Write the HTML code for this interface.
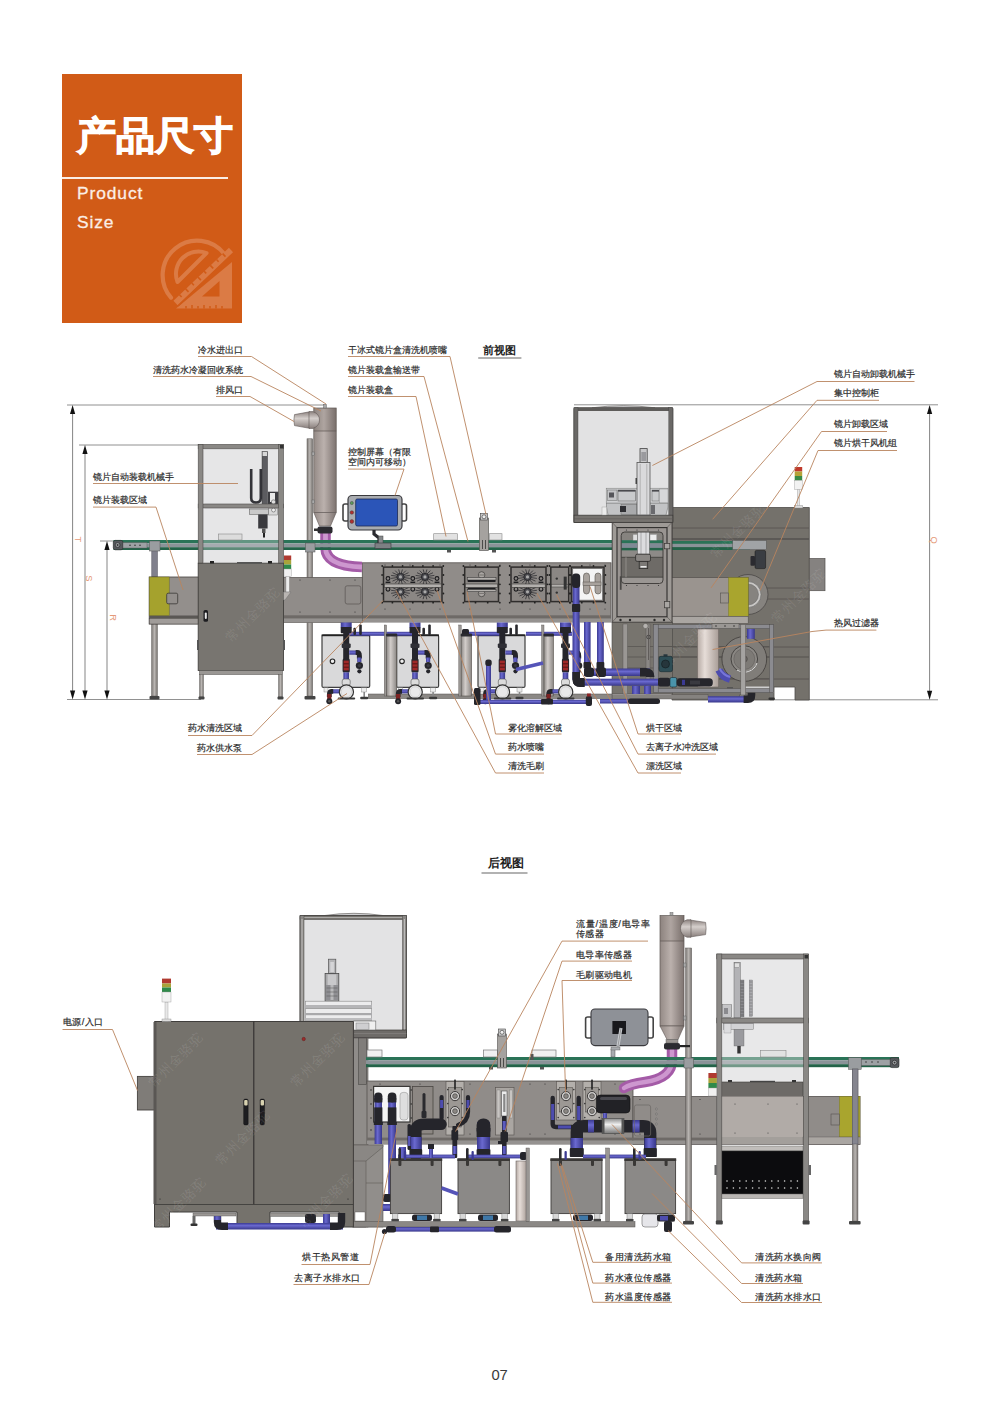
<!DOCTYPE html>
<html lang="zh"><head><meta charset="utf-8"><title>产品尺寸</title>
<style>
html,body{margin:0;padding:0;background:#fff;}
body{width:1000px;height:1415px;position:relative;overflow:hidden;font-family:"Liberation Sans",sans-serif;color:#333;}
#hdr{position:absolute;left:62px;top:73.5px;width:180px;height:249.5px;background:#d15b17;}
#hdr h1{position:absolute;left:15px;top:38px;margin:0;font-size:39px;line-height:48px;font-weight:bold;color:#fff;white-space:nowrap;letter-spacing:0px;-webkit-text-stroke:1.1px #fff;}
#hdr .ln{position:absolute;left:0;top:103px;width:166px;height:2px;background:#fbeee6;}
#hdr p{position:absolute;left:15px;margin:0;font-size:17.4px;line-height:20px;color:#fbeee6;letter-spacing:0.9px;-webkit-text-stroke:0.3px #fbeee6;}
svg#art{position:absolute;left:0;top:0;}
.lb{position:absolute;font-size:9px;line-height:11px;white-space:nowrap;color:#2b2b2b;-webkit-text-stroke:0.2px #2b2b2b;}
.r{text-align:right;}
.vt{position:absolute;font-size:8px;line-height:8px;color:#e0703a;transform:rotate(90deg);transform-origin:left top;}
.ttl{position:absolute;font-size:11.5px;line-height:14px;font-weight:bold;color:#222;white-space:nowrap;}
#pg{position:absolute;left:491.4px;top:1367.3px;font-size:14.8px;line-height:16px;color:#3a3a3a;}
</style></head><body>
<div id="hdr"><h1>产品尺寸</h1><div class="ln"></div><p style="top:109px">Product</p><p style="top:138.6px">Size</p></div>
<svg id="art" width="1000" height="1415" viewBox="0 0 1000 1415">
<defs>
<linearGradient id="cyl" x1="0" x2="1" y1="0" y2="0"><stop offset="0" stop-color="#b5aaa4"/><stop offset="0.35" stop-color="#e6ddd8"/><stop offset="1" stop-color="#a89d97"/></linearGradient>
<linearGradient id="cyl2" x1="0" x2="1" y1="0" y2="0"><stop offset="0" stop-color="#8f8b88"/><stop offset="0.4" stop-color="#d2cdca"/><stop offset="1" stop-color="#8b8784"/></linearGradient>
<linearGradient id="twr" x1="0" x2="1" y1="0" y2="0"><stop offset="0" stop-color="#948a86"/><stop offset="0.45" stop-color="#bbb1ad"/><stop offset="1" stop-color="#7d7370"/></linearGradient>
<linearGradient id="vent" x1="0" x2="0" y1="0" y2="1"><stop offset="0" stop-color="#8d8380"/><stop offset="0.4" stop-color="#d5cfcc"/><stop offset="1" stop-color="#8a807d"/></linearGradient>
<linearGradient id="bp" x1="0" x2="1" y1="0" y2="0"><stop offset="0" stop-color="#3b3a92"/><stop offset="0.4" stop-color="#6a69cf"/><stop offset="1" stop-color="#38378a"/></linearGradient>
<linearGradient id="bph" x1="0" x2="0" y1="0" y2="1"><stop offset="0" stop-color="#3b3a92"/><stop offset="0.4" stop-color="#6a69cf"/><stop offset="1" stop-color="#38378a"/></linearGradient>
<linearGradient id="pole" x1="0" x2="1" y1="0" y2="0"><stop offset="0" stop-color="#7d7976"/><stop offset="0.5" stop-color="#b9b5b2"/><stop offset="1" stop-color="#77736f"/></linearGradient>
</defs>
<g id="icon" fill="none" stroke="#db7b45">
<path d="M171 297.6 A34.5 34.5 0 1 1 224.6 254.2" stroke-width="4.2" stroke-linecap="round"/>
<path d="M177.5 282 L206.5 253 A22.4 22.4 0 0 0 177.5 282 Z" stroke-width="4" stroke-linejoin="round"/>
<path d="M175.5 303 L231 250" stroke-width="6" stroke-linecap="butt"/>
<path d="M179.5 294.8 l2.1 2.2" stroke="#d15b17" stroke-width="1.6"/>
<path d="M185.6 288.9 l2.9 3.0" stroke="#d15b17" stroke-width="1.6"/>
<path d="M191.8 283.0 l2.1 2.2" stroke="#d15b17" stroke-width="1.6"/>
<path d="M198.0 277.1 l2.9 3.0" stroke="#d15b17" stroke-width="1.6"/>
<path d="M204.1 271.2 l2.1 2.2" stroke="#d15b17" stroke-width="1.6"/>
<path d="M210.3 265.4 l2.9 3.0" stroke="#d15b17" stroke-width="1.6"/>
<path d="M216.5 259.5 l2.1 2.2" stroke="#d15b17" stroke-width="1.6"/>
<path d="M222.6 253.6 l2.9 3.0" stroke="#d15b17" stroke-width="1.6"/>
<path d="M232 262 V308.5 H176 Z" stroke-width="0" fill="#db7b45"/>
<path d="M219.5 281 V296.5 H202 Z" stroke="none" fill="#d15b17"/>
<path d="M178 306 L231.5 255.5" stroke="#d15b17" stroke-width="1.6"/>
<path d="M186.0 308.5 v-2.4" stroke="#d15b17" stroke-width="1.5"/>
<path d="M192.0 308.5 v-3.4" stroke="#d15b17" stroke-width="1.5"/>
<path d="M198.0 308.5 v-2.4" stroke="#d15b17" stroke-width="1.5"/>
<path d="M204.0 308.5 v-3.4" stroke="#d15b17" stroke-width="1.5"/>
<path d="M210.0 308.5 v-2.4" stroke="#d15b17" stroke-width="1.5"/>
<path d="M216.0 308.5 v-3.4" stroke="#d15b17" stroke-width="1.5"/>
<path d="M222.0 308.5 v-2.4" stroke="#d15b17" stroke-width="1.5"/>
</g>
<g id="front">
<line x1="67.0" y1="405.0" x2="326.0" y2="405.0" stroke="#858585" stroke-width="0.9" />
<line x1="574.0" y1="404.8" x2="938.0" y2="404.8" stroke="#858585" stroke-width="0.9" />
<line x1="79.0" y1="445.0" x2="199.0" y2="445.0" stroke="#858585" stroke-width="0.9" />
<line x1="100.0" y1="541.0" x2="114.0" y2="541.0" stroke="#858585" stroke-width="0.9" />
<line x1="67.0" y1="699.5" x2="201.0" y2="699.5" stroke="#858585" stroke-width="0.9" />
<line x1="770.0" y1="699.8" x2="938.0" y2="699.8" stroke="#858585" stroke-width="0.9" />
<line x1="72.6" y1="411.0" x2="72.6" y2="693.5" stroke="#858585" stroke-width="1" />
<path d="M72.6 405.0 l-2.6 9 h5.2 z" fill="#111" />
<path d="M72.6 699.5 l-2.6 -9 h5.2 z" fill="#111" />
<line x1="85.0" y1="451.0" x2="85.0" y2="693.5" stroke="#858585" stroke-width="1" />
<path d="M85.0 445.0 l-2.6 9 h5.2 z" fill="#111" />
<path d="M85.0 699.5 l-2.6 -9 h5.2 z" fill="#111" />
<line x1="107.0" y1="547.0" x2="107.0" y2="693.5" stroke="#858585" stroke-width="1" />
<path d="M107.0 541.0 l-2.6 9 h5.2 z" fill="#111" />
<path d="M107.0 699.5 l-2.6 -9 h5.2 z" fill="#111" />
<line x1="929.6" y1="411.0" x2="929.6" y2="693.8" stroke="#858585" stroke-width="1" />
<path d="M929.6 405.0 l-2.6 9 h5.2 z" fill="#111" />
<path d="M929.6 699.8 l-2.6 -9 h5.2 z" fill="#111" />
<path d="M672 507.5 H809.3 V700 H795 V687 H774 V700 H672 Z" fill="#74716b" stroke="#4e4c49" stroke-width="0.8" />
<rect x="809.3" y="558.5" width="15.7" height="32.2" fill="#858280" stroke="#55524f" stroke-width="0.7" />
<line x1="672.0" y1="528.0" x2="809.0" y2="528.0" stroke="#55524f" stroke-width="0.8" />
<line x1="672.0" y1="539.0" x2="809.0" y2="539.0" stroke="#55524f" stroke-width="1.4" />
<line x1="672.0" y1="647.0" x2="809.0" y2="647.0" stroke="#55524f" stroke-width="0.8" />
<line x1="672.0" y1="657.0" x2="809.0" y2="657.0" stroke="#55524f" stroke-width="1.2" />
<line x1="672.0" y1="679.0" x2="809.0" y2="679.0" stroke="#55524f" stroke-width="0.8" />
<line x1="748.0" y1="588.0" x2="809.0" y2="588.0" stroke="#55524f" stroke-width="0.8" />
<line x1="748.0" y1="599.0" x2="809.0" y2="599.0" stroke="#55524f" stroke-width="0.8" />
<circle cx="748.0" cy="594.5" r="20.0" fill="#86837f" stroke="#4a4846" stroke-width="0.8"/>
<circle cx="748.0" cy="594.5" r="13.0" fill="#c9c7c5" stroke="#666" stroke-width="0.6"/>
<circle cx="748.0" cy="594.5" r="10.5" fill="#86837f" stroke="#666" stroke-width="0.5"/>
<rect x="672.0" y="577.6" width="76.2" height="38.7" fill="#9a948f" stroke="#55524f" stroke-width="0.7" />
<rect x="728.6" y="577.6" width="19.6" height="38.7" fill="#a9a52e" stroke="#7c7a25" stroke-width="0.5" />
<rect x="720.5" y="593.0" width="8.1" height="10.0" fill="#9a948f" stroke="#55524f" stroke-width="0.6" />
<rect x="672.0" y="616.3" width="76.2" height="7.2" fill="#aaa6a2" stroke="#55524f" stroke-width="0.6" />
<rect x="672.0" y="541.0" width="78.0" height="2.6" fill="#2a7357" />
<rect x="672.0" y="543.6" width="78.0" height="3.6" fill="#8a9398" />
<rect x="672.0" y="547.2" width="78.0" height="2.8" fill="#236349" />
<rect x="672.0" y="541.0" width="78.0" height="2.6" fill="#2a7357" />
<rect x="732.7" y="540.6" width="33.6" height="9.1" fill="#a0a3a6" stroke="#555" stroke-width="0.5" />
<rect x="755.0" y="550.4" width="10.6" height="18.2" fill="#3a3d42" stroke="#111" stroke-width="0.5" rx="1.5" />
<rect x="750.5" y="556.0" width="4.5" height="9.8" fill="#2b2b30" rx="1" />
<rect x="797.3" y="489.0" width="2.4" height="18.5" fill="#e8e8e8" stroke="#999" stroke-width="0.4" />
<rect x="794.3" y="505.5" width="8.5" height="2.5" fill="#ddd" stroke="#888" stroke-width="0.4" />
<rect x="794.7" y="467.0" width="7.5" height="4.5" fill="#c0392b" />
<rect x="794.7" y="471.5" width="7.5" height="4.5" fill="#b5a338" />
<rect x="794.7" y="476.0" width="7.5" height="4.5" fill="#3a8a45" />
<rect x="794.7" y="480.5" width="7.5" height="8.9" fill="#f2f2f2" stroke="#999" stroke-width="0.4" />
<rect x="612.0" y="622.5" width="60.5" height="71.5" fill="#77746e" stroke="#4e4c49" stroke-width="0.6" />
<line x1="625.0" y1="646.5" x2="672.0" y2="646.5" stroke="#55524f" stroke-width="0.7" />
<line x1="625.0" y1="657.0" x2="672.0" y2="657.0" stroke="#55524f" stroke-width="0.7" />
<line x1="625.0" y1="668.0" x2="672.0" y2="668.0" stroke="#55524f" stroke-width="0.7" />
<rect x="623.0" y="624.0" width="4.5" height="70.0" fill="#9a9794" stroke="#55524f" stroke-width="0.4" />
<rect x="646.0" y="624.0" width="4.0" height="70.0" fill="#8a8784" stroke="#55524f" stroke-width="0.4" />
<circle cx="645.5" cy="626.0" r="2.6" fill="#b5b2af" stroke="#55524f" stroke-width="0.5"/>
<circle cx="648.5" cy="637.0" r="1.8" fill="none" stroke="#333" stroke-width="0.7"/>
<line x1="648.5" y1="628.0" x2="648.5" y2="660.0" stroke="#55524f" stroke-width="0.8" />
<line x1="658.0" y1="646.5" x2="770.0" y2="646.5" stroke="#55524f" stroke-width="0.7" />
<line x1="658.0" y1="657.0" x2="770.0" y2="657.0" stroke="#55524f" stroke-width="0.7" />
<line x1="658.0" y1="678.7" x2="770.0" y2="678.7" stroke="#55524f" stroke-width="0.7" />
<rect x="697.4" y="629.0" width="21.3" height="58.0" fill="url(#cyl)" stroke="#6d6561" stroke-width="0.6" />
<circle cx="744.3" cy="659.0" r="22.4" fill="#807d79" stroke="#45423f" stroke-width="0.9"/>
<circle cx="744.3" cy="659.0" r="13.3" fill="#8a8783" stroke="#3f3d3b" stroke-width="0.9"/>
<circle cx="744.3" cy="659.0" r="10.5" fill="#7d7a76" stroke="#5a5754" stroke-width="0.5"/>
<path d="M737 670 A13.3 13.3 0 0 0 757 663" fill="none" stroke="#e6e6e6" stroke-width="1" />
<circle cx="744.3" cy="659.0" r="3.0" fill="#6d6a66" stroke="#3f3d3b" stroke-width="0.6"/>
<path d="M719 670 Q722 677 730 679" fill="none" stroke="#4d4cae" stroke-width="7.5" />
<path d="M719.5 668.5 Q723 675 730 677" fill="none" stroke="#7776d8" stroke-width="2" />
<rect x="747.0" y="628.3" width="7.8" height="10.5" fill="url(#bp)" />
<rect x="727.0" y="687.0" width="6.0" height="2.0" fill="#555" />
<rect x="755.0" y="687.0" width="6.0" height="2.0" fill="#555" />
<rect x="745.0" y="686.5" width="25.0" height="2.5" fill="#cfcfcf" />
<rect x="653.3" y="624.5" width="120.4" height="4.2" fill="#8b8b90" stroke="#4e4c4a" stroke-width="0.5" />
<rect x="653.3" y="688.5" width="120.4" height="4.2" fill="#8b8b90" stroke="#4e4c4a" stroke-width="0.5" />
<rect x="653.3" y="624.5" width="4.9" height="68.2" fill="#8b8b90" stroke="#4e4c4a" stroke-width="0.5" />
<rect x="769.5" y="624.5" width="4.2" height="68.2" fill="#8b8b90" stroke="#4e4c4a" stroke-width="0.5" />
<rect x="712.0" y="623.5" width="27.0" height="5.0" fill="#9a9794" stroke="#55524f" stroke-width="0.5" />
<circle cx="716.0" cy="626.0" r="0.7" fill="#222"/>
<circle cx="725.0" cy="626.0" r="0.7" fill="#222"/>
<circle cx="734.0" cy="626.0" r="0.7" fill="#222"/>
<rect x="740.8" y="624.5" width="4.9" height="71.5" fill="#a5a3a1" stroke="#5a5754" stroke-width="0.5" />
<rect x="739.5" y="695.0" width="7.5" height="2.5" fill="#8a8885" stroke="#444" stroke-width="0.4" />
<rect x="770.0" y="692.7" width="3.3" height="5.3" fill="#777" />
<rect x="768.5" y="697.5" width="6.3" height="2.5" fill="#333" rx="1" />
<rect x="659.0" y="656.3" width="13.5" height="15.4" fill="#2e4d55" stroke="#182a30" stroke-width="0.6" rx="2" />
<circle cx="665.5" cy="664.0" r="4.0" fill="#26363c" stroke="#101c20" stroke-width="0.6"/>
<rect x="663.5" y="654.3" width="4.0" height="2.7" fill="#26363c" />
<rect x="584.0" y="668.5" width="66.0" height="7.5" fill="url(#bph)" />
<rect x="584.0" y="667.5" width="10.0" height="9.5" fill="#25252b" rx="3" />
<rect x="596.0" y="667.5" width="10.0" height="9.5" fill="#25252b" rx="2" />
<path d="M640 672.2 H646 Q650.2 672.2 650.2 677" fill="none" stroke="#25252b" stroke-width="8.5" />
<rect x="579.0" y="678.7" width="79.0" height="7.0" fill="url(#bph)" />
<path d="M572.5 672 v7 q0 8 8 8 h4 v-9 h-4.5 v-6 z" fill="#25252b" />
<rect x="658.0" y="677.8" width="12.0" height="8.8" fill="#25252b" rx="2" />
<rect x="670.0" y="677.5" width="6.7" height="9.5" fill="#4a93aa" stroke="#1a2a30" stroke-width="0.6" rx="1.5" />
<rect x="676.7" y="678.3" width="36.1" height="8.1" fill="#25252b" rx="3.5" />
<rect x="682.0" y="679.8" width="3.0" height="5.2" fill="#3b3a92" />
<rect x="690.0" y="680.5" width="10.0" height="4.0" fill="#3a3a40" />
<rect x="632.0" y="686.0" width="8.0" height="8.0" fill="url(#bp)" />
<rect x="644.0" y="686.0" width="7.0" height="8.0" fill="url(#bp)" />
<rect x="612.0" y="694.8" width="96.0" height="4.2" fill="#85827f" stroke="#55524f" stroke-width="0.4" />
<rect x="600.0" y="699.0" width="40.0" height="4.5" fill="url(#bph)" />
<rect x="708.0" y="696.2" width="36.0" height="6.3" fill="url(#bph)" />
<path d="M743.6 699.3 H748 Q751.5 699.3 751.5 695 V692.7" fill="none" stroke="#25252b" stroke-width="7.6" />
<rect x="628.0" y="698.5" width="32.0" height="5.5" fill="#25252b" rx="2.5" />
<rect x="307.0" y="438.8" width="5.6" height="257.2" fill="url(#pole)" stroke="#5b5754" stroke-width="0.5" />
<rect x="304.5" y="696.0" width="11.0" height="3.5" fill="#444" rx="1" />
<rect x="151.8" y="549.0" width="5.6" height="28.0" fill="#80808c" stroke="#4a4a55" stroke-width="0.5" />
<rect x="151.5" y="623.4" width="6.0" height="72.6" fill="url(#pole)" stroke="#5b5754" stroke-width="0.4" />
<rect x="149.5" y="696.0" width="10.0" height="3.5" fill="#444" rx="1" />
<rect x="362.3" y="562.8" width="248.7" height="59.2" fill="#908c89" stroke="#56524f" stroke-width="0.8" />
<rect x="362.3" y="615.3" width="248.7" height="3.3" fill="#6e6a67" />
<rect x="362.3" y="618.6" width="248.7" height="3.4" fill="#959290" />
<rect x="283.5" y="577.4" width="78.8" height="45.0" fill="#908c89" stroke="#56524f" stroke-width="0.7" />
<rect x="283.5" y="615.3" width="78.8" height="3.3" fill="#6e6a67" />
<rect x="283.5" y="618.6" width="78.8" height="3.8" fill="#959290" />
<rect x="345.2" y="585.8" width="15.6" height="18.2" fill="none" stroke="#5f5b58" stroke-width="0.8" rx="2" />
<rect x="149.2" y="577.0" width="49.3" height="47.0" fill="#938f8c" stroke="#46423f" stroke-width="0.8" />
<rect x="149.2" y="615.5" width="49.3" height="2.9" fill="#5a5754" />
<rect x="149.2" y="618.4" width="49.3" height="5.6" fill="#a09c99" stroke="#46423f" stroke-width="0.5" />
<rect x="149.2" y="577.0" width="20.0" height="38.5" fill="#a5a22d" stroke="#6c6a25" stroke-width="0.5" />
<rect x="166.7" y="593.2" width="11.0" height="10.6" fill="#938f8c" stroke="#3a3836" stroke-width="0.8" rx="1.5" />
<circle cx="385.0" cy="565.0" r="0.6" fill="#333"/>
<circle cx="385.0" cy="609.0" r="0.6" fill="#333"/>
<circle cx="410.0" cy="565.0" r="0.6" fill="#333"/>
<circle cx="410.0" cy="609.0" r="0.6" fill="#333"/>
<circle cx="440.0" cy="565.0" r="0.6" fill="#333"/>
<circle cx="440.0" cy="609.0" r="0.6" fill="#333"/>
<circle cx="470.0" cy="565.0" r="0.6" fill="#333"/>
<circle cx="470.0" cy="609.0" r="0.6" fill="#333"/>
<circle cx="500.0" cy="565.0" r="0.6" fill="#333"/>
<circle cx="500.0" cy="609.0" r="0.6" fill="#333"/>
<circle cx="530.0" cy="565.0" r="0.6" fill="#333"/>
<circle cx="530.0" cy="609.0" r="0.6" fill="#333"/>
<circle cx="560.0" cy="565.0" r="0.6" fill="#333"/>
<circle cx="560.0" cy="609.0" r="0.6" fill="#333"/>
<circle cx="590.0" cy="565.0" r="0.6" fill="#333"/>
<circle cx="590.0" cy="609.0" r="0.6" fill="#333"/>
<circle cx="605.0" cy="565.0" r="0.6" fill="#333"/>
<circle cx="605.0" cy="609.0" r="0.6" fill="#333"/>
<circle cx="300.0" cy="580.0" r="0.6" fill="#333"/>
<circle cx="300.0" cy="612.0" r="0.6" fill="#333"/>
<circle cx="330.0" cy="580.0" r="0.6" fill="#333"/>
<circle cx="330.0" cy="612.0" r="0.6" fill="#333"/>
<circle cx="355.0" cy="580.0" r="0.6" fill="#333"/>
<circle cx="355.0" cy="612.0" r="0.6" fill="#333"/>
<rect x="383.5" y="567.1" width="58.5" height="34.5" fill="#8b8784" stroke="#2f2d2c" stroke-width="1.5" />
<line x1="403.4" y1="577.5" x2="409.9" y2="578.4" stroke="#2a2a2e" stroke-width="0.75" />
<line x1="403.0" y1="578.6" x2="408.5" y2="581.1" stroke="#2a2a2e" stroke-width="0.75" />
<line x1="402.2" y1="579.4" x2="405.8" y2="583.2" stroke="#2a2a2e" stroke-width="0.75" />
<line x1="401.1" y1="579.8" x2="402.3" y2="584.4" stroke="#2a2a2e" stroke-width="0.75" />
<line x1="399.9" y1="579.8" x2="398.6" y2="584.3" stroke="#2a2a2e" stroke-width="0.75" />
<line x1="398.8" y1="579.4" x2="395.1" y2="583.2" stroke="#2a2a2e" stroke-width="0.75" />
<line x1="398.0" y1="578.6" x2="392.5" y2="581.1" stroke="#2a2a2e" stroke-width="0.75" />
<line x1="397.6" y1="577.5" x2="391.1" y2="578.4" stroke="#2a2a2e" stroke-width="0.75" />
<line x1="397.6" y1="576.3" x2="391.1" y2="575.4" stroke="#2a2a2e" stroke-width="0.75" />
<line x1="398.0" y1="575.2" x2="392.5" y2="572.7" stroke="#2a2a2e" stroke-width="0.75" />
<line x1="398.8" y1="574.4" x2="395.2" y2="570.6" stroke="#2a2a2e" stroke-width="0.75" />
<line x1="399.9" y1="574.0" x2="398.7" y2="569.4" stroke="#2a2a2e" stroke-width="0.75" />
<line x1="401.1" y1="574.0" x2="402.4" y2="569.5" stroke="#2a2a2e" stroke-width="0.75" />
<line x1="402.2" y1="574.4" x2="405.9" y2="570.6" stroke="#2a2a2e" stroke-width="0.75" />
<line x1="403.0" y1="575.2" x2="408.5" y2="572.7" stroke="#2a2a2e" stroke-width="0.75" />
<line x1="403.4" y1="576.3" x2="409.9" y2="575.4" stroke="#2a2a2e" stroke-width="0.75" />
<circle cx="400.5" cy="576.9" r="3.6" fill="#4a4a4f" stroke="#1a1a1d" stroke-width="0.7"/>
<circle cx="400.5" cy="576.9" r="1.6" fill="#aaa"/>
<line x1="403.4" y1="592.4" x2="409.9" y2="593.3" stroke="#2a2a2e" stroke-width="0.75" />
<line x1="403.0" y1="593.5" x2="408.5" y2="596.0" stroke="#2a2a2e" stroke-width="0.75" />
<line x1="402.2" y1="594.3" x2="405.8" y2="598.1" stroke="#2a2a2e" stroke-width="0.75" />
<line x1="401.1" y1="594.7" x2="402.3" y2="599.3" stroke="#2a2a2e" stroke-width="0.75" />
<line x1="399.9" y1="594.7" x2="398.6" y2="599.2" stroke="#2a2a2e" stroke-width="0.75" />
<line x1="398.8" y1="594.3" x2="395.1" y2="598.1" stroke="#2a2a2e" stroke-width="0.75" />
<line x1="398.0" y1="593.5" x2="392.5" y2="596.0" stroke="#2a2a2e" stroke-width="0.75" />
<line x1="397.6" y1="592.4" x2="391.1" y2="593.3" stroke="#2a2a2e" stroke-width="0.75" />
<line x1="397.6" y1="591.2" x2="391.1" y2="590.3" stroke="#2a2a2e" stroke-width="0.75" />
<line x1="398.0" y1="590.1" x2="392.5" y2="587.6" stroke="#2a2a2e" stroke-width="0.75" />
<line x1="398.8" y1="589.3" x2="395.2" y2="585.5" stroke="#2a2a2e" stroke-width="0.75" />
<line x1="399.9" y1="588.9" x2="398.7" y2="584.3" stroke="#2a2a2e" stroke-width="0.75" />
<line x1="401.1" y1="588.9" x2="402.4" y2="584.4" stroke="#2a2a2e" stroke-width="0.75" />
<line x1="402.2" y1="589.3" x2="405.9" y2="585.5" stroke="#2a2a2e" stroke-width="0.75" />
<line x1="403.0" y1="590.1" x2="408.5" y2="587.6" stroke="#2a2a2e" stroke-width="0.75" />
<line x1="403.4" y1="591.2" x2="409.9" y2="590.3" stroke="#2a2a2e" stroke-width="0.75" />
<circle cx="400.5" cy="591.8" r="3.6" fill="#4a4a4f" stroke="#1a1a1d" stroke-width="0.7"/>
<circle cx="400.5" cy="591.8" r="1.6" fill="#aaa"/>
<line x1="427.9" y1="577.5" x2="434.4" y2="578.4" stroke="#2a2a2e" stroke-width="0.75" />
<line x1="427.5" y1="578.6" x2="433.0" y2="581.1" stroke="#2a2a2e" stroke-width="0.75" />
<line x1="426.7" y1="579.4" x2="430.3" y2="583.2" stroke="#2a2a2e" stroke-width="0.75" />
<line x1="425.6" y1="579.8" x2="426.8" y2="584.4" stroke="#2a2a2e" stroke-width="0.75" />
<line x1="424.4" y1="579.8" x2="423.1" y2="584.3" stroke="#2a2a2e" stroke-width="0.75" />
<line x1="423.3" y1="579.4" x2="419.6" y2="583.2" stroke="#2a2a2e" stroke-width="0.75" />
<line x1="422.5" y1="578.6" x2="417.0" y2="581.1" stroke="#2a2a2e" stroke-width="0.75" />
<line x1="422.1" y1="577.5" x2="415.6" y2="578.4" stroke="#2a2a2e" stroke-width="0.75" />
<line x1="422.1" y1="576.3" x2="415.6" y2="575.4" stroke="#2a2a2e" stroke-width="0.75" />
<line x1="422.5" y1="575.2" x2="417.0" y2="572.7" stroke="#2a2a2e" stroke-width="0.75" />
<line x1="423.3" y1="574.4" x2="419.7" y2="570.6" stroke="#2a2a2e" stroke-width="0.75" />
<line x1="424.4" y1="574.0" x2="423.2" y2="569.4" stroke="#2a2a2e" stroke-width="0.75" />
<line x1="425.6" y1="574.0" x2="426.9" y2="569.5" stroke="#2a2a2e" stroke-width="0.75" />
<line x1="426.7" y1="574.4" x2="430.4" y2="570.6" stroke="#2a2a2e" stroke-width="0.75" />
<line x1="427.5" y1="575.2" x2="433.0" y2="572.7" stroke="#2a2a2e" stroke-width="0.75" />
<line x1="427.9" y1="576.3" x2="434.4" y2="575.4" stroke="#2a2a2e" stroke-width="0.75" />
<circle cx="425.0" cy="576.9" r="3.6" fill="#4a4a4f" stroke="#1a1a1d" stroke-width="0.7"/>
<circle cx="425.0" cy="576.9" r="1.6" fill="#aaa"/>
<line x1="427.9" y1="592.4" x2="434.4" y2="593.3" stroke="#2a2a2e" stroke-width="0.75" />
<line x1="427.5" y1="593.5" x2="433.0" y2="596.0" stroke="#2a2a2e" stroke-width="0.75" />
<line x1="426.7" y1="594.3" x2="430.3" y2="598.1" stroke="#2a2a2e" stroke-width="0.75" />
<line x1="425.6" y1="594.7" x2="426.8" y2="599.3" stroke="#2a2a2e" stroke-width="0.75" />
<line x1="424.4" y1="594.7" x2="423.1" y2="599.2" stroke="#2a2a2e" stroke-width="0.75" />
<line x1="423.3" y1="594.3" x2="419.6" y2="598.1" stroke="#2a2a2e" stroke-width="0.75" />
<line x1="422.5" y1="593.5" x2="417.0" y2="596.0" stroke="#2a2a2e" stroke-width="0.75" />
<line x1="422.1" y1="592.4" x2="415.6" y2="593.3" stroke="#2a2a2e" stroke-width="0.75" />
<line x1="422.1" y1="591.2" x2="415.6" y2="590.3" stroke="#2a2a2e" stroke-width="0.75" />
<line x1="422.5" y1="590.1" x2="417.0" y2="587.6" stroke="#2a2a2e" stroke-width="0.75" />
<line x1="423.3" y1="589.3" x2="419.7" y2="585.5" stroke="#2a2a2e" stroke-width="0.75" />
<line x1="424.4" y1="588.9" x2="423.2" y2="584.3" stroke="#2a2a2e" stroke-width="0.75" />
<line x1="425.6" y1="588.9" x2="426.9" y2="584.4" stroke="#2a2a2e" stroke-width="0.75" />
<line x1="426.7" y1="589.3" x2="430.4" y2="585.5" stroke="#2a2a2e" stroke-width="0.75" />
<line x1="427.5" y1="590.1" x2="433.0" y2="587.6" stroke="#2a2a2e" stroke-width="0.75" />
<line x1="427.9" y1="591.2" x2="434.4" y2="590.3" stroke="#2a2a2e" stroke-width="0.75" />
<circle cx="425.0" cy="591.8" r="3.6" fill="#4a4a4f" stroke="#1a1a1d" stroke-width="0.7"/>
<circle cx="425.0" cy="591.8" r="1.6" fill="#aaa"/>
<circle cx="388.0" cy="578.5" r="1.9" fill="#8b8784" stroke="#1a1a1d" stroke-width="1.1"/>
<circle cx="388.0" cy="589.2" r="1.9" fill="#8b8784" stroke="#1a1a1d" stroke-width="1.1"/>
<rect x="385.6" y="581.6" width="4.8" height="1.4" fill="#1d1d20" />
<circle cx="412.8" cy="578.5" r="1.9" fill="#8b8784" stroke="#1a1a1d" stroke-width="1.1"/>
<circle cx="412.8" cy="589.2" r="1.9" fill="#8b8784" stroke="#1a1a1d" stroke-width="1.1"/>
<rect x="410.4" y="581.6" width="4.8" height="1.4" fill="#1d1d20" />
<circle cx="437.0" cy="578.5" r="1.9" fill="#8b8784" stroke="#1a1a1d" stroke-width="1.1"/>
<circle cx="437.0" cy="589.2" r="1.9" fill="#8b8784" stroke="#1a1a1d" stroke-width="1.1"/>
<rect x="434.6" y="581.6" width="4.8" height="1.4" fill="#1d1d20" />
<rect x="384.3" y="584.0" width="56.9" height="3.3" fill="#b3b0ad" stroke="#3a3836" stroke-width="0.6" />
<circle cx="382.2" cy="566.0" r="0.9" fill="#222"/>
<circle cx="382.2" cy="602.7" r="0.9" fill="#222"/>
<circle cx="392.4" cy="566.0" r="0.9" fill="#222"/>
<circle cx="392.4" cy="602.7" r="0.9" fill="#222"/>
<circle cx="402.6" cy="566.0" r="0.9" fill="#222"/>
<circle cx="402.6" cy="602.7" r="0.9" fill="#222"/>
<circle cx="412.8" cy="566.0" r="0.9" fill="#222"/>
<circle cx="412.8" cy="602.7" r="0.9" fill="#222"/>
<circle cx="422.9" cy="566.0" r="0.9" fill="#222"/>
<circle cx="422.9" cy="602.7" r="0.9" fill="#222"/>
<circle cx="433.1" cy="566.0" r="0.9" fill="#222"/>
<circle cx="433.1" cy="602.7" r="0.9" fill="#222"/>
<circle cx="443.3" cy="566.0" r="0.9" fill="#222"/>
<circle cx="443.3" cy="602.7" r="0.9" fill="#222"/>
<circle cx="382.1" cy="575.0" r="0.9" fill="#222"/>
<circle cx="443.4" cy="575.0" r="0.9" fill="#222"/>
<circle cx="382.1" cy="584.3" r="0.9" fill="#222"/>
<circle cx="443.4" cy="584.3" r="0.9" fill="#222"/>
<circle cx="382.1" cy="593.5" r="0.9" fill="#222"/>
<circle cx="443.4" cy="593.5" r="0.9" fill="#222"/>
<rect x="464.7" y="567.1" width="33.8" height="34.5" fill="#8b8784" stroke="#2f2d2c" stroke-width="1.5" />
<circle cx="481.6" cy="575.0" r="3.3" fill="#a9a5a2" stroke="#3a3836" stroke-width="0.7"/>
<circle cx="481.6" cy="593.4" r="3.3" fill="#a9a5a2" stroke="#3a3836" stroke-width="0.7"/>
<line x1="479.1" y1="575.0" x2="484.1" y2="575.0" stroke="#55524f" stroke-width="0.6" />
<line x1="479.1" y1="593.4" x2="484.1" y2="593.4" stroke="#55524f" stroke-width="0.6" />
<rect x="467.2" y="577.5" width="28.8" height="2.5" fill="#b3b0ad" stroke="#2a2a2a" stroke-width="0.5" />
<rect x="467.7" y="580.0" width="27.8" height="2.0" fill="#1d1d20" />
<rect x="465.5" y="584.0" width="32.2" height="3.3" fill="#b3b0ad" stroke="#3a3836" stroke-width="0.6" />
<rect x="467.7" y="587.8" width="27.8" height="1.8" fill="#1d1d20" />
<rect x="467.2" y="589.6" width="28.8" height="2.0" fill="#b3b0ad" stroke="#2a2a2a" stroke-width="0.5" />
<circle cx="463.4" cy="566.0" r="0.9" fill="#222"/>
<circle cx="463.4" cy="602.7" r="0.9" fill="#222"/>
<circle cx="475.5" cy="566.0" r="0.9" fill="#222"/>
<circle cx="475.5" cy="602.7" r="0.9" fill="#222"/>
<circle cx="487.7" cy="566.0" r="0.9" fill="#222"/>
<circle cx="487.7" cy="602.7" r="0.9" fill="#222"/>
<circle cx="499.8" cy="566.0" r="0.9" fill="#222"/>
<circle cx="499.8" cy="602.7" r="0.9" fill="#222"/>
<circle cx="463.3" cy="575.0" r="0.9" fill="#222"/>
<circle cx="499.9" cy="575.0" r="0.9" fill="#222"/>
<circle cx="463.3" cy="584.3" r="0.9" fill="#222"/>
<circle cx="499.9" cy="584.3" r="0.9" fill="#222"/>
<circle cx="463.3" cy="593.5" r="0.9" fill="#222"/>
<circle cx="499.9" cy="593.5" r="0.9" fill="#222"/>
<rect x="511.0" y="567.1" width="35.0" height="34.5" fill="#8b8784" stroke="#2f2d2c" stroke-width="1.5" />
<line x1="530.4" y1="577.5" x2="536.9" y2="578.4" stroke="#2a2a2e" stroke-width="0.75" />
<line x1="530.0" y1="578.6" x2="535.5" y2="581.1" stroke="#2a2a2e" stroke-width="0.75" />
<line x1="529.2" y1="579.4" x2="532.8" y2="583.2" stroke="#2a2a2e" stroke-width="0.75" />
<line x1="528.1" y1="579.8" x2="529.3" y2="584.4" stroke="#2a2a2e" stroke-width="0.75" />
<line x1="526.9" y1="579.8" x2="525.6" y2="584.3" stroke="#2a2a2e" stroke-width="0.75" />
<line x1="525.8" y1="579.4" x2="522.1" y2="583.2" stroke="#2a2a2e" stroke-width="0.75" />
<line x1="525.0" y1="578.6" x2="519.5" y2="581.1" stroke="#2a2a2e" stroke-width="0.75" />
<line x1="524.6" y1="577.5" x2="518.1" y2="578.4" stroke="#2a2a2e" stroke-width="0.75" />
<line x1="524.6" y1="576.3" x2="518.1" y2="575.4" stroke="#2a2a2e" stroke-width="0.75" />
<line x1="525.0" y1="575.2" x2="519.5" y2="572.7" stroke="#2a2a2e" stroke-width="0.75" />
<line x1="525.8" y1="574.4" x2="522.2" y2="570.6" stroke="#2a2a2e" stroke-width="0.75" />
<line x1="526.9" y1="574.0" x2="525.7" y2="569.4" stroke="#2a2a2e" stroke-width="0.75" />
<line x1="528.1" y1="574.0" x2="529.4" y2="569.5" stroke="#2a2a2e" stroke-width="0.75" />
<line x1="529.2" y1="574.4" x2="532.9" y2="570.6" stroke="#2a2a2e" stroke-width="0.75" />
<line x1="530.0" y1="575.2" x2="535.5" y2="572.7" stroke="#2a2a2e" stroke-width="0.75" />
<line x1="530.4" y1="576.3" x2="536.9" y2="575.4" stroke="#2a2a2e" stroke-width="0.75" />
<circle cx="527.5" cy="576.9" r="3.6" fill="#4a4a4f" stroke="#1a1a1d" stroke-width="0.7"/>
<circle cx="527.5" cy="576.9" r="1.6" fill="#aaa"/>
<line x1="530.4" y1="592.4" x2="536.9" y2="593.3" stroke="#2a2a2e" stroke-width="0.75" />
<line x1="530.0" y1="593.5" x2="535.5" y2="596.0" stroke="#2a2a2e" stroke-width="0.75" />
<line x1="529.2" y1="594.3" x2="532.8" y2="598.1" stroke="#2a2a2e" stroke-width="0.75" />
<line x1="528.1" y1="594.7" x2="529.3" y2="599.3" stroke="#2a2a2e" stroke-width="0.75" />
<line x1="526.9" y1="594.7" x2="525.6" y2="599.2" stroke="#2a2a2e" stroke-width="0.75" />
<line x1="525.8" y1="594.3" x2="522.1" y2="598.1" stroke="#2a2a2e" stroke-width="0.75" />
<line x1="525.0" y1="593.5" x2="519.5" y2="596.0" stroke="#2a2a2e" stroke-width="0.75" />
<line x1="524.6" y1="592.4" x2="518.1" y2="593.3" stroke="#2a2a2e" stroke-width="0.75" />
<line x1="524.6" y1="591.2" x2="518.1" y2="590.3" stroke="#2a2a2e" stroke-width="0.75" />
<line x1="525.0" y1="590.1" x2="519.5" y2="587.6" stroke="#2a2a2e" stroke-width="0.75" />
<line x1="525.8" y1="589.3" x2="522.2" y2="585.5" stroke="#2a2a2e" stroke-width="0.75" />
<line x1="526.9" y1="588.9" x2="525.7" y2="584.3" stroke="#2a2a2e" stroke-width="0.75" />
<line x1="528.1" y1="588.9" x2="529.4" y2="584.4" stroke="#2a2a2e" stroke-width="0.75" />
<line x1="529.2" y1="589.3" x2="532.9" y2="585.5" stroke="#2a2a2e" stroke-width="0.75" />
<line x1="530.0" y1="590.1" x2="535.5" y2="587.6" stroke="#2a2a2e" stroke-width="0.75" />
<line x1="530.4" y1="591.2" x2="536.9" y2="590.3" stroke="#2a2a2e" stroke-width="0.75" />
<circle cx="527.5" cy="591.8" r="3.6" fill="#4a4a4f" stroke="#1a1a1d" stroke-width="0.7"/>
<circle cx="527.5" cy="591.8" r="1.6" fill="#aaa"/>
<circle cx="516.0" cy="578.5" r="1.9" fill="#8b8784" stroke="#1a1a1d" stroke-width="1.1"/>
<circle cx="516.0" cy="589.2" r="1.9" fill="#8b8784" stroke="#1a1a1d" stroke-width="1.1"/>
<rect x="513.6" y="581.6" width="4.8" height="1.4" fill="#1d1d20" />
<circle cx="541.0" cy="578.5" r="1.9" fill="#8b8784" stroke="#1a1a1d" stroke-width="1.1"/>
<circle cx="541.0" cy="589.2" r="1.9" fill="#8b8784" stroke="#1a1a1d" stroke-width="1.1"/>
<rect x="538.6" y="581.6" width="4.8" height="1.4" fill="#1d1d20" />
<rect x="511.8" y="584.0" width="33.4" height="3.3" fill="#b3b0ad" stroke="#3a3836" stroke-width="0.6" />
<circle cx="509.7" cy="566.0" r="0.9" fill="#222"/>
<circle cx="509.7" cy="602.7" r="0.9" fill="#222"/>
<circle cx="522.2" cy="566.0" r="0.9" fill="#222"/>
<circle cx="522.2" cy="602.7" r="0.9" fill="#222"/>
<circle cx="534.8" cy="566.0" r="0.9" fill="#222"/>
<circle cx="534.8" cy="602.7" r="0.9" fill="#222"/>
<circle cx="547.3" cy="566.0" r="0.9" fill="#222"/>
<circle cx="547.3" cy="602.7" r="0.9" fill="#222"/>
<circle cx="509.6" cy="575.0" r="0.9" fill="#222"/>
<circle cx="547.4" cy="575.0" r="0.9" fill="#222"/>
<circle cx="509.6" cy="584.3" r="0.9" fill="#222"/>
<circle cx="547.4" cy="584.3" r="0.9" fill="#222"/>
<circle cx="509.6" cy="593.5" r="0.9" fill="#222"/>
<circle cx="547.4" cy="593.5" r="0.9" fill="#222"/>
<rect x="550.8" y="567.1" width="17.9" height="34.5" fill="#8b8784" stroke="#2f2d2c" stroke-width="1.5" />
<rect x="551.6" y="584.2" width="16.3" height="2.8" fill="#b3b0ad" stroke="#3a3836" stroke-width="0.5" />
<circle cx="556.8" cy="578.6" r="1.2" fill="#333"/>
<circle cx="556.8" cy="592.6" r="1.2" fill="#333"/>
<rect x="563.7" y="576.6" width="3.0" height="13.0" fill="#333" />
<circle cx="549.5" cy="566.0" r="0.9" fill="#222"/>
<circle cx="549.5" cy="602.7" r="0.9" fill="#222"/>
<circle cx="559.8" cy="566.0" r="0.9" fill="#222"/>
<circle cx="559.8" cy="602.7" r="0.9" fill="#222"/>
<circle cx="570.0" cy="566.0" r="0.9" fill="#222"/>
<circle cx="570.0" cy="602.7" r="0.9" fill="#222"/>
<circle cx="549.4" cy="575.0" r="0.9" fill="#222"/>
<circle cx="570.1" cy="575.0" r="0.9" fill="#222"/>
<circle cx="549.4" cy="584.3" r="0.9" fill="#222"/>
<circle cx="570.1" cy="584.3" r="0.9" fill="#222"/>
<circle cx="549.4" cy="593.5" r="0.9" fill="#222"/>
<circle cx="570.1" cy="593.5" r="0.9" fill="#222"/>
<rect x="571.3" y="567.1" width="32.7" height="34.5" fill="#8b8784" stroke="#2f2d2c" stroke-width="1.5" />
<rect x="572.8" y="568.6" width="29.7" height="31.5" fill="#f4f4f4" stroke="#444" stroke-width="0.5" />
<circle cx="570.0" cy="566.0" r="0.9" fill="#222"/>
<circle cx="570.0" cy="602.7" r="0.9" fill="#222"/>
<circle cx="581.8" cy="566.0" r="0.9" fill="#222"/>
<circle cx="581.8" cy="602.7" r="0.9" fill="#222"/>
<circle cx="593.5" cy="566.0" r="0.9" fill="#222"/>
<circle cx="593.5" cy="602.7" r="0.9" fill="#222"/>
<circle cx="605.3" cy="566.0" r="0.9" fill="#222"/>
<circle cx="605.3" cy="602.7" r="0.9" fill="#222"/>
<circle cx="569.9" cy="575.0" r="0.9" fill="#222"/>
<circle cx="605.4" cy="575.0" r="0.9" fill="#222"/>
<circle cx="569.9" cy="584.3" r="0.9" fill="#222"/>
<circle cx="605.4" cy="584.3" r="0.9" fill="#222"/>
<circle cx="569.9" cy="593.5" r="0.9" fill="#222"/>
<circle cx="605.4" cy="593.5" r="0.9" fill="#222"/>
<rect x="583.5" y="573.0" width="6.0" height="21.0" fill="#a8a29d" stroke="#55504c" stroke-width="0.6" rx="3" />
<rect x="595.0" y="573.0" width="6.0" height="21.0" fill="#a8a29d" stroke="#55504c" stroke-width="0.6" rx="3" />
<rect x="583.0" y="582.0" width="18.0" height="3.5" fill="#a8a29d" stroke="#55504c" stroke-width="0.5" />
<rect x="572.7" y="586.0" width="6.8" height="94.0" fill="url(#bp)" />
<rect x="572.0" y="573.5" width="8.2" height="14.5" fill="#25252b" rx="3.5" />
<rect x="572.0" y="604.0" width="8.2" height="8.0" fill="#25252b" rx="1" />
<rect x="584.0" y="622.0" width="6.6" height="46.0" fill="url(#bp)" />
<rect x="597.0" y="622.0" width="6.8" height="46.0" fill="url(#bp)" />
<rect x="583.5" y="662.0" width="7.5" height="6.5" fill="#25252b" rx="1" />
<rect x="596.5" y="662.0" width="7.8" height="6.5" fill="#25252b" rx="1" />
<path d="M325.5 533 V548 Q326 566 362 567" fill="none" stroke="#a45ba7" stroke-width="10.5" />
<path d="M325.5 533 V548 Q326 566 362 567" fill="none" stroke="#cd97cf" stroke-width="4.8" />
<rect x="113.5" y="540.0" width="498.5" height="3.4" fill="#2a7357" />
<rect x="113.5" y="543.4" width="498.5" height="3.8" fill="#8a9398" />
<rect x="113.5" y="547.2" width="498.5" height="2.8" fill="#236349" />
<rect x="113.3" y="540.4" width="9.7" height="9.4" fill="#55585c" stroke="#2a2a2a" stroke-width="0.6" rx="2" />
<circle cx="117.6" cy="545.0" r="2.4" fill="#9a9da0" stroke="#222" stroke-width="0.6"/>
<circle cx="117.6" cy="545.0" r="0.9" fill="#333"/>
<rect x="123.0" y="542.6" width="24.0" height="5.4" fill="#9da1a4" stroke="#555" stroke-width="0.4" />
<circle cx="130.0" cy="545.2" r="0.7" fill="#222"/>
<circle cx="135.0" cy="545.2" r="0.7" fill="#222"/>
<circle cx="140.0" cy="545.2" r="0.7" fill="#222"/>
<rect x="305.5" y="543.0" width="9.5" height="9.0" fill="#9a9da0" stroke="#555" stroke-width="0.5" />
<rect x="149.5" y="541.0" width="10.5" height="10.0" fill="#9a9da0" stroke="#555" stroke-width="0.5" />
<path d="M309.5 411.8 L294.5 414.6 Q293.3 420 294.5 425.6 L309.5 428.3 Z" fill="url(#vent)" stroke="#5f5855" stroke-width="0.6" />
<rect x="313.8" y="408.0" width="22.4" height="104.5" fill="url(#twr)" stroke="#5f5855" stroke-width="0.7" />
<line x1="313.8" y1="431.0" x2="336.2" y2="431.0" stroke="#5f5855" stroke-width="0.7" />
<rect x="313.8" y="408.0" width="22.4" height="23.0" fill="rgba(90,80,76,0.12)" />
<path d="M309 411.6 H313 Q319.5 414 319.5 420 Q319.5 426 313 428.4 H309 Z" fill="url(#vent)" stroke="#5f5855" stroke-width="0.6" />
<rect x="323.5" y="404.5" width="3.0" height="3.5" fill="#aaa" stroke="#555" stroke-width="0.4" />
<path d="M313.8 512.5 L319.5 526 H330.5 L336.2 512.5 Z" fill="url(#twr)" stroke="#5f5855" stroke-width="0.6" />
<rect x="317.5" y="526.5" width="15.0" height="7.0" fill="#2b2b30" rx="2" />
<rect x="314.0" y="528.5" width="4.0" height="2.5" fill="#333" />
<rect x="312.0" y="452.0" width="2.5" height="3.5" fill="#aaa" stroke="#555" stroke-width="0.4" />
<rect x="312.0" y="500.0" width="2.5" height="3.5" fill="#aaa" stroke="#555" stroke-width="0.4" />
<rect x="203.0" y="448.8" width="75.6" height="55.2" fill="#e6e6e7" rx="2.5" />
<rect x="203.0" y="508.0" width="75.6" height="55.2" fill="#e6e6e7" rx="2.5" />
<rect x="198.3" y="540.0" width="85.2" height="3.4" fill="#2a7357" />
<rect x="198.3" y="543.4" width="85.2" height="3.8" fill="#8a9398" />
<rect x="198.3" y="547.2" width="85.2" height="2.8" fill="#236349" />
<rect x="203.0" y="539.0" width="75.6" height="12.0" fill="rgba(230,230,231,0.3)" />
<rect x="218.4" y="534.0" width="23.6" height="6.0" fill="#dcdcdc" stroke="#8a8a8a" stroke-width="0.6" />
<rect x="262.0" y="451.5" width="5.6" height="52.8" fill="#5c5c60" stroke="#333" stroke-width="0.4" />
<rect x="262.6" y="452.0" width="4.4" height="4.0" fill="#d8d8d8" />
<path d="M251.2 469 V498 Q251.2 502.5 256 502.5 Q260.8 502.5 260.8 498 V469" fill="none" stroke="#333338" stroke-width="2.6" />
<rect x="249.4" y="509.0" width="19.3" height="5.4" fill="#c9c9c9" stroke="#555" stroke-width="0.5" />
<rect x="258.2" y="514.4" width="9.4" height="14.1" fill="#3a3a3e" />
<rect x="262.0" y="528.5" width="3.5" height="4.5" fill="#555" />
<rect x="263.0" y="533.0" width="2.0" height="4.5" fill="#222" />
<rect x="268.0" y="491.7" width="10.6" height="12.3" fill="#3c3c40" />
<rect x="270.0" y="493.0" width="5.0" height="9.0" fill="#e8e8e8" />
<circle cx="273.5" cy="502.0" r="2.2" fill="#ddd" stroke="#444" stroke-width="0.5"/>
<rect x="268.5" y="508.0" width="9.0" height="7.0" fill="#d8d8d8" stroke="#555" stroke-width="0.4" />
<circle cx="273.5" cy="510.0" r="2.0" fill="#eee" stroke="#444" stroke-width="0.5"/>
<rect x="198.2" y="444.4" width="85.3" height="4.4" fill="#8a8885" stroke="#4e4c4a" stroke-width="0.6" />
<rect x="198.2" y="504.0" width="85.3" height="4.0" fill="#8a8885" stroke="#4e4c4a" stroke-width="0.6" />
<rect x="198.2" y="444.4" width="4.8" height="119.1" fill="#8a8885" stroke="#4e4c4a" stroke-width="0.6" />
<rect x="278.6" y="444.4" width="4.9" height="119.1" fill="#8a8885" stroke="#4e4c4a" stroke-width="0.6" />
<rect x="280.0" y="445.0" width="3.5" height="3.5" fill="#333" />
<rect x="198.2" y="563.2" width="85.3" height="107.3" fill="#787570" stroke="#44423f" stroke-width="0.9" />
<rect x="237.0" y="562.0" width="25.0" height="1.6" fill="#555" />
<rect x="210.0" y="561.0" width="4.0" height="2.5" fill="#222" />
<rect x="268.0" y="561.0" width="4.0" height="2.5" fill="#222" />
<rect x="203.5" y="610.0" width="4.5" height="11.8" fill="#1d1d20" rx="1.5" />
<rect x="204.8" y="612.5" width="2.0" height="6.5" fill="#e8e8e8" rx="1" />
<rect x="197.0" y="640.0" width="2.0" height="10.0" fill="#555" />
<rect x="283.0" y="640.0" width="2.0" height="10.0" fill="#555" />
<rect x="199.5" y="670.5" width="83.0" height="4.0" fill="#9a9794" stroke="#4e4c4a" stroke-width="0.5" />
<rect x="199.5" y="674.5" width="4.0" height="22.5" fill="url(#pole)" stroke="#5b5754" stroke-width="0.4" />
<rect x="278.5" y="674.5" width="4.0" height="22.5" fill="url(#pole)" stroke="#5b5754" stroke-width="0.4" />
<rect x="198.5" y="696.5" width="6.0" height="3.1" fill="#444" rx="1" />
<rect x="277.5" y="696.5" width="6.0" height="3.1" fill="#444" rx="1" />
<rect x="284.0" y="555.5" width="7.2" height="4.5" fill="#b03a30" />
<rect x="284.0" y="560.0" width="7.2" height="4.5" fill="#a9a33a" />
<rect x="284.0" y="564.5" width="7.2" height="4.5" fill="#2f8a4a" />
<rect x="284.0" y="569.0" width="7.2" height="7.4" fill="#f0f0f0" stroke="#999" stroke-width="0.4" />
<rect x="286.0" y="576.4" width="3.2" height="15.6" fill="#ececec" stroke="#999" stroke-width="0.4" />
<path d="M283.5 592 H291 L285 600 H283.5 Z" fill="#b9b5b2" stroke="#666" stroke-width="0.4" />
<rect x="343.0" y="504.0" width="6.0" height="17.0" fill="none" stroke="#444" stroke-width="1.6" rx="2" />
<rect x="401.0" y="504.0" width="5.5" height="17.0" fill="none" stroke="#444" stroke-width="1.6" rx="2" />
<rect x="348.0" y="495.5" width="54.0" height="34.5" fill="#a9acb0" stroke="#3a3a3e" stroke-width="1.2" rx="4" />
<rect x="355.7" y="499.0" width="41.8" height="27.0" fill="#2b55b8" stroke="#1c2a55" stroke-width="0.8" rx="1.5" />
<circle cx="351.8" cy="503.0" r="1.6" fill="#5a9a5a" stroke="#333" stroke-width="0.4"/>
<circle cx="351.8" cy="512.5" r="1.8" fill="#b03030" stroke="#333" stroke-width="0.4"/>
<circle cx="351.8" cy="521.5" r="1.9" fill="#b03030" stroke="#333" stroke-width="0.4"/>
<path d="M374 530 v4 l5 4 v5" fill="none" stroke="#2b2b30" stroke-width="3.2" />
<rect x="378.5" y="536.0" width="4.5" height="12.0" fill="#85888b" stroke="#444" stroke-width="0.5" />
<rect x="375.0" y="543.0" width="16.0" height="5.5" fill="#7d8083" stroke="#3a3a3e" stroke-width="0.6" />
<rect x="433.7" y="533.7" width="23.8" height="6.3" fill="#e2e2e2" stroke="#8a8a8a" stroke-width="0.6" />
<rect x="489.5" y="533.7" width="12.5" height="6.3" fill="#e2e2e2" stroke="#8a8a8a" stroke-width="0.6" />
<rect x="479.4" y="518.0" width="9.2" height="32.5" fill="#a5a29f" stroke="#4e4c4a" stroke-width="0.6" />
<rect x="480.5" y="513.5" width="7.0" height="6.5" fill="#c9c9c9" stroke="#444" stroke-width="0.6" />
<circle cx="484.0" cy="516.8" r="2.0" fill="#eee" stroke="#333" stroke-width="0.6"/>
<line x1="482.5" y1="540.0" x2="482.5" y2="549.0" stroke="#333" stroke-width="0.8" />
<line x1="485.5" y1="540.0" x2="485.5" y2="549.0" stroke="#333" stroke-width="0.8" />
<rect x="447.0" y="550.0" width="4.0" height="2.5" fill="#555" />
<rect x="492.0" y="550.0" width="4.0" height="2.5" fill="#555" />
<path d="M592 407.8 Q623 403.6 655 407.8 Z" fill="#d0d0d2" stroke="#55524f" stroke-width="0.6" />
<rect x="574.0" y="407.8" width="98.8" height="114.6" fill="#e2e2e3" stroke="#4e4c4a" stroke-width="1.2" rx="1" />
<rect x="574.0" y="407.8" width="98.8" height="3.2" fill="#5e5c5a" />
<rect x="574.0" y="407.8" width="4.0" height="107.4" fill="#6a6866" stroke="#444" stroke-width="0.4" />
<rect x="668.8" y="407.8" width="4.0" height="107.4" fill="#6a6866" stroke="#444" stroke-width="0.4" />
<rect x="574.0" y="515.2" width="98.8" height="7.2" fill="#76736f" stroke="#3f3d3b" stroke-width="0.8" />
<line x1="574.0" y1="518.8" x2="672.8" y2="518.8" stroke="#5a5754" stroke-width="0.6" />
<rect x="606.2" y="488.2" width="61.8" height="15.0" fill="#d0d1d3" stroke="#777" stroke-width="0.5" />
<rect x="607.5" y="490.0" width="9.5" height="10.5" fill="#c4c5c7" stroke="#555" stroke-width="0.4" />
<rect x="609.0" y="492.5" width="5.0" height="5.0" fill="#55555a" />
<rect x="618.0" y="490.0" width="17.5" height="11.0" fill="#c9cacc" stroke="#555" stroke-width="0.5" />
<rect x="618.0" y="490.0" width="17.5" height="1.6" fill="#4a4a4e" />
<rect x="652.0" y="490.0" width="7.0" height="11.0" fill="#c9cacc" stroke="#555" stroke-width="0.4" />
<rect x="652.0" y="490.0" width="7.0" height="1.6" fill="#4a4a4e" />
<rect x="659.5" y="489.0" width="8.5" height="14.0" fill="#d6d7d9" stroke="#888" stroke-width="0.4" />
<path d="M606.5 503.2 H668 V507 L666 515 H608 L606.5 507 Z" fill="#c2c3c5" stroke="#666" stroke-width="0.5" />
<rect x="621.0" y="504.5" width="16.0" height="10.0" fill="#a9aaac" stroke="#555" stroke-width="0.4" />
<rect x="620.0" y="506.0" width="6.0" height="6.0" fill="#2f2f33" />
<rect x="651.0" y="505.0" width="4.0" height="9.0" fill="#6a6a6e" />
<rect x="602.0" y="507.0" width="4.5" height="8.0" fill="#ececec" stroke="#999" stroke-width="0.4" />
<rect x="640.0" y="448.6" width="7.2" height="13.8" fill="#c8c8ca" stroke="#444" stroke-width="0.8" />
<rect x="641.3" y="452.0" width="4.7" height="9.0" fill="#9a9a9e" />
<rect x="637.0" y="462.4" width="13.0" height="52.6" fill="#d9d9db" stroke="#555" stroke-width="0.8" />
<line x1="640.2" y1="464.0" x2="640.2" y2="515.0" stroke="#8a8a8a" stroke-width="0.5" />
<line x1="646.8" y1="464.0" x2="646.8" y2="515.0" stroke="#8a8a8a" stroke-width="0.5" />
<rect x="635.5" y="478.0" width="1.5" height="6.0" fill="#444" />
<rect x="612.2" y="522.4" width="59.8" height="99.8" fill="#9e9a96" stroke="#3f3d3b" stroke-width="0.9" />
<path d="M612.2 522.4 L617 527.6 M672 522.4 L667 527.6 M612.2 622.2 L617 616.8 M672 622.2 L667 616.8" fill="none" stroke="#55524f" stroke-width="0.6" />
<rect x="617.0" y="527.6" width="50.0" height="89.2" fill="#999491" stroke="#2f2d2c" stroke-width="1.1" />
<clipPath id="uw"><rect x="621.2" y="532" width="41.8" height="51.5" rx="3.5"/></clipPath><g clip-path="url(#uw)">
<rect x="621.2" y="532.0" width="41.8" height="8.2" fill="#86837f" />
<rect x="621.2" y="540.2" width="41.8" height="3.2" fill="#2a7357" />
<rect x="621.2" y="543.4" width="41.8" height="4.5" fill="#7f8a95" />
<rect x="621.2" y="547.9" width="41.8" height="2.7" fill="#236349" />
<rect x="621.2" y="550.6" width="41.8" height="6.7" fill="#8d8a87" />
<rect x="621.2" y="557.3" width="41.8" height="19.9" fill="#6e6b67" />
<rect x="621.2" y="577.2" width="41.8" height="6.3" fill="#9a9693" />
<line x1="621.2" y1="557.3" x2="663.0" y2="557.3" stroke="#3a3836" stroke-width="0.8" />
<line x1="621.2" y1="577.2" x2="663.0" y2="577.2" stroke="#3a3836" stroke-width="0.8" />
<line x1="626.0" y1="557.3" x2="626.0" y2="577.2" stroke="#8a8784" stroke-width="1.2" />
<rect x="650.0" y="534.4" width="6.8" height="5.8" fill="#ededed" stroke="#888" stroke-width="0.4" />
<rect x="633.0" y="534.4" width="4.4" height="5.8" fill="#e0e0e0" stroke="#888" stroke-width="0.4" />
<rect x="637.4" y="530.0" width="12.0" height="24.2" fill="#dcdcde" stroke="#666" stroke-width="0.6" />
<line x1="641.0" y1="532.0" x2="641.0" y2="554.0" stroke="#8a8a8a" stroke-width="0.6" />
<line x1="646.0" y1="532.0" x2="646.0" y2="554.0" stroke="#8a8a8a" stroke-width="0.6" />
<rect x="635.6" y="554.2" width="14.9" height="7.2" fill="#8a8784" stroke="#2f2d2c" stroke-width="0.8" rx="1.5" />
<rect x="639.2" y="561.4" width="8.5" height="7.2" fill="#7b7875" stroke="#2f2d2c" stroke-width="0.8" />
<rect x="640.5" y="566.0" width="6.0" height="1.6" fill="#e8e8e8" />
</g>
<rect x="621.2" y="532.0" width="41.8" height="51.5" fill="none" stroke="#3a3836" stroke-width="0.9" rx="3.5" />
<rect x="664.4" y="543.4" width="5.4" height="5.4" fill="#a9a6a3" stroke="#3a3836" stroke-width="0.7" />
<rect x="664.4" y="601.5" width="5.4" height="6.3" fill="#a9a6a3" stroke="#3a3836" stroke-width="0.7" />
<rect x="619.8" y="576.3" width="1.8" height="13.5" fill="#4a4846" />
<circle cx="626.5" cy="530.0" r="0.6" fill="#333"/>
<circle cx="626.5" cy="585.5" r="0.6" fill="#333"/>
<circle cx="637.0" cy="530.0" r="0.6" fill="#333"/>
<circle cx="637.0" cy="585.5" r="0.6" fill="#333"/>
<circle cx="648.0" cy="530.0" r="0.6" fill="#333"/>
<circle cx="648.0" cy="585.5" r="0.6" fill="#333"/>
<circle cx="658.5" cy="530.0" r="0.6" fill="#333"/>
<circle cx="658.5" cy="585.5" r="0.6" fill="#333"/>
<circle cx="620.5" cy="620.0" r="1.2" fill="#2a2a2a"/>
<circle cx="630.0" cy="620.0" r="1.2" fill="#2a2a2a"/>
<circle cx="654.5" cy="620.0" r="1.2" fill="#2a2a2a"/>
<circle cx="664.0" cy="620.0" r="1.2" fill="#2a2a2a"/>
<rect x="368.3" y="694.0" width="243.7" height="4.6" fill="#8b8885" stroke="#55524f" stroke-width="0.5" />
<rect x="322.0" y="635.0" width="47.7" height="52.4" fill="#d9d9da" stroke="#3f3f3f" stroke-width="1.2" rx="1.5" />
<rect x="321.6" y="634.4" width="48.5" height="1.8" fill="#222" />
<rect x="324.0" y="687.8" width="4.0" height="4.2" fill="#ececec" stroke="#777" stroke-width="0.4" />
<rect x="361.7" y="687.8" width="5.0" height="4.2" fill="#ececec" stroke="#777" stroke-width="0.4" />
<rect x="363.4" y="692.0" width="1.6" height="5.0" fill="#888" />
<rect x="360.2" y="696.7" width="8.0" height="2.6" fill="#3a3a3a" rx="1" />
<rect x="396.7" y="635.0" width="41.9" height="52.4" fill="#d9d9da" stroke="#3f3f3f" stroke-width="1.2" rx="1.5" />
<rect x="396.3" y="634.4" width="42.7" height="1.8" fill="#222" />
<rect x="398.7" y="687.8" width="4.0" height="4.2" fill="#ececec" stroke="#777" stroke-width="0.4" />
<rect x="430.6" y="687.8" width="5.0" height="4.2" fill="#ececec" stroke="#777" stroke-width="0.4" />
<rect x="432.3" y="692.0" width="1.6" height="5.0" fill="#888" />
<rect x="429.1" y="696.7" width="8.0" height="2.6" fill="#3a3a3a" rx="1" />
<rect x="478.0" y="635.0" width="47.0" height="52.4" fill="#d9d9da" stroke="#3f3f3f" stroke-width="1.2" rx="1.5" />
<rect x="477.6" y="634.4" width="47.8" height="1.8" fill="#222" />
<rect x="480.0" y="687.8" width="4.0" height="4.2" fill="#ececec" stroke="#777" stroke-width="0.4" />
<rect x="517.0" y="687.8" width="5.0" height="4.2" fill="#ececec" stroke="#777" stroke-width="0.4" />
<rect x="518.7" y="692.0" width="1.6" height="5.0" fill="#888" />
<rect x="515.5" y="696.7" width="8.0" height="2.6" fill="#3a3a3a" rx="1" />
<rect x="349.0" y="631.8" width="65.0" height="4.0" fill="url(#bph)" />
<rect x="465.0" y="631.8" width="37.0" height="4.0" fill="url(#bph)" />
<rect x="526.0" y="631.8" width="46.0" height="4.0" fill="url(#bph)" />
<rect x="462.0" y="629.0" width="7.0" height="9.0" fill="#25252b" rx="1.5" />
<rect x="384.2" y="625.0" width="2.4" height="71.0" fill="#9a9794" stroke="#55524f" stroke-width="0.4" />
<rect x="386.6" y="635.6" width="10.1" height="60.4" fill="url(#cyl2)" stroke="#55504c" stroke-width="0.6" />
<rect x="386.1" y="633.5" width="11.1" height="3.0" fill="#2b2b30" rx="1" />
<rect x="458.8" y="625.0" width="2.4" height="71.0" fill="#9a9794" stroke="#55524f" stroke-width="0.4" />
<rect x="461.2" y="635.6" width="10.4" height="60.4" fill="url(#cyl2)" stroke="#55504c" stroke-width="0.6" />
<rect x="460.7" y="633.5" width="11.4" height="3.0" fill="#2b2b30" rx="1" />
<rect x="541.6" y="625.0" width="2.4" height="71.0" fill="#9a9794" stroke="#55524f" stroke-width="0.4" />
<rect x="544.0" y="635.6" width="9.5" height="60.4" fill="url(#cyl2)" stroke="#55504c" stroke-width="0.6" />
<rect x="543.5" y="633.5" width="10.5" height="3.0" fill="#2b2b30" rx="1" />
<circle cx="332.5" cy="661.3" r="2.3" fill="#eee" stroke="#222" stroke-width="1.1"/>
<circle cx="402.0" cy="661.3" r="2.3" fill="#eee" stroke="#222" stroke-width="1.1"/>
<rect x="340.7" y="622.5" width="11.0" height="5.5" fill="url(#bp)" />
<rect x="340.7" y="627.0" width="11.0" height="6.2" fill="#25252b" rx="1" />
<rect x="343.2" y="633.0" width="6.0" height="26.5" fill="#25252b" />
<rect x="341.7" y="643.4" width="9.0" height="4.6" fill="#2f2f35" rx="1" />
<rect x="342.6" y="658.6" width="7.2" height="13.8" fill="#25252b" rx="1.5" />
<rect x="343.6" y="660.6" width="5.2" height="9.8" fill="#a02828" />
<line x1="343.6" y1="663.8" x2="348.8" y2="663.8" stroke="#401010" stroke-width="0.8" />
<line x1="343.6" y1="667.2" x2="348.8" y2="667.2" stroke="#401010" stroke-width="0.8" />
<rect x="343.4" y="672.4" width="5.6" height="7.6" fill="url(#bp)" />
<rect x="342.2" y="679.0" width="8.0" height="6.5" fill="#dcdcdc" stroke="#555" stroke-width="0.6" rx="2" />
<rect x="349.2" y="650.5" width="8.0" height="4.2" fill="url(#bph)" />
<path d="M355.7 652.6 H357.2 Q359.4 652.6 359.4 656 V658.5" fill="none" stroke="#25252b" stroke-width="5" />
<rect x="357.2" y="657.5" width="4.2" height="4.5" fill="url(#bp)" />
<circle cx="359.4" cy="665.5" r="3.6" fill="#25252b"/>
<circle cx="359.4" cy="665.5" r="1.6" fill="#3a3a42"/>
<circle cx="359.4" cy="671.3" r="2.1" fill="#25252b"/>
<rect x="332.0" y="689.3" width="8.2" height="4.1" fill="url(#bph)" />
<circle cx="346.4" cy="691.9" r="7.1" fill="#e9e9ea" stroke="#333" stroke-width="1.2"/>
<circle cx="346.4" cy="691.9" r="5.2" fill="none" stroke="#c8c8c8" stroke-width="0.6"/>
<rect x="337.7" y="697.6" width="17.5" height="2.0" fill="#3a3a3a" rx="1" />
<path d="M333.2 691.3 H331.2 Q329.3 691.3 329.3 695 V697" fill="none" stroke="#25252b" stroke-width="4.8" />
<rect x="327.2" y="694.0" width="4.2" height="5.3" fill="#7c2222" />
<circle cx="329.3" cy="701.2" r="3.0" fill="#25252b"/>
<circle cx="329.3" cy="701.2" r="1.2" fill="#555"/>
<rect x="409.5" y="622.5" width="11.0" height="5.5" fill="url(#bp)" />
<rect x="409.5" y="627.0" width="11.0" height="6.2" fill="#25252b" rx="1" />
<rect x="412.0" y="633.0" width="6.0" height="26.5" fill="#25252b" />
<rect x="410.5" y="643.4" width="9.0" height="4.6" fill="#2f2f35" rx="1" />
<rect x="411.4" y="658.6" width="7.2" height="13.8" fill="#25252b" rx="1.5" />
<rect x="412.4" y="660.6" width="5.2" height="9.8" fill="#a02828" />
<line x1="412.4" y1="663.8" x2="417.6" y2="663.8" stroke="#401010" stroke-width="0.8" />
<line x1="412.4" y1="667.2" x2="417.6" y2="667.2" stroke="#401010" stroke-width="0.8" />
<rect x="412.2" y="672.4" width="5.6" height="7.6" fill="url(#bp)" />
<rect x="411.0" y="679.0" width="8.0" height="6.5" fill="#dcdcdc" stroke="#555" stroke-width="0.6" rx="2" />
<rect x="418.0" y="650.5" width="8.0" height="4.2" fill="url(#bph)" />
<path d="M424.5 652.6 H426.0 Q428.2 652.6 428.2 656 V658.5" fill="none" stroke="#25252b" stroke-width="5" />
<rect x="426.0" y="657.5" width="4.2" height="4.5" fill="url(#bp)" />
<circle cx="428.2" cy="665.5" r="3.6" fill="#25252b"/>
<circle cx="428.2" cy="665.5" r="1.6" fill="#3a3a42"/>
<circle cx="428.2" cy="671.3" r="2.1" fill="#25252b"/>
<rect x="400.8" y="689.3" width="8.2" height="4.1" fill="url(#bph)" />
<circle cx="415.2" cy="691.9" r="7.1" fill="#e9e9ea" stroke="#333" stroke-width="1.2"/>
<circle cx="415.2" cy="691.9" r="5.2" fill="none" stroke="#c8c8c8" stroke-width="0.6"/>
<rect x="406.5" y="697.6" width="17.5" height="2.0" fill="#3a3a3a" rx="1" />
<path d="M402.0 691.3 H400.0 Q398.1 691.3 398.1 695 V697" fill="none" stroke="#25252b" stroke-width="4.8" />
<rect x="396.0" y="694.0" width="4.2" height="5.3" fill="#7c2222" />
<circle cx="398.1" cy="701.2" r="3.0" fill="#25252b"/>
<circle cx="398.1" cy="701.2" r="1.2" fill="#555"/>
<rect x="496.8" y="622.5" width="11.0" height="5.5" fill="url(#bp)" />
<rect x="496.8" y="627.0" width="11.0" height="6.2" fill="#25252b" rx="1" />
<rect x="499.3" y="633.0" width="6.0" height="26.5" fill="#25252b" />
<rect x="497.8" y="643.4" width="9.0" height="4.6" fill="#2f2f35" rx="1" />
<rect x="498.7" y="658.6" width="7.2" height="13.8" fill="#25252b" rx="1.5" />
<rect x="499.7" y="660.6" width="5.2" height="9.8" fill="#a02828" />
<line x1="499.7" y1="663.8" x2="504.9" y2="663.8" stroke="#401010" stroke-width="0.8" />
<line x1="499.7" y1="667.2" x2="504.9" y2="667.2" stroke="#401010" stroke-width="0.8" />
<rect x="499.5" y="672.4" width="5.6" height="7.6" fill="url(#bp)" />
<rect x="498.3" y="679.0" width="8.0" height="6.5" fill="#dcdcdc" stroke="#555" stroke-width="0.6" rx="2" />
<rect x="505.3" y="650.5" width="8.0" height="4.2" fill="url(#bph)" />
<path d="M511.8 652.6 H513.3 Q515.5 652.6 515.5 656 V658.5" fill="none" stroke="#25252b" stroke-width="5" />
<rect x="513.3" y="657.5" width="4.2" height="4.5" fill="url(#bp)" />
<circle cx="515.5" cy="665.5" r="3.6" fill="#25252b"/>
<circle cx="515.5" cy="665.5" r="1.6" fill="#3a3a42"/>
<circle cx="515.5" cy="671.3" r="2.1" fill="#25252b"/>
<rect x="488.1" y="689.3" width="8.2" height="4.1" fill="url(#bph)" />
<circle cx="502.5" cy="691.9" r="7.1" fill="#e9e9ea" stroke="#333" stroke-width="1.2"/>
<circle cx="502.5" cy="691.9" r="5.2" fill="none" stroke="#c8c8c8" stroke-width="0.6"/>
<rect x="493.8" y="697.6" width="17.5" height="2.0" fill="#3a3a3a" rx="1" />
<path d="M489.3 691.3 H487.3 Q485.4 691.3 485.4 695 V697" fill="none" stroke="#25252b" stroke-width="4.8" />
<rect x="483.3" y="694.0" width="4.2" height="5.3" fill="#7c2222" />
<circle cx="485.4" cy="701.2" r="3.0" fill="#25252b"/>
<circle cx="485.4" cy="701.2" r="1.2" fill="#555"/>
<rect x="486.0" y="664.0" width="5.0" height="36.0" fill="url(#bp)" />
<rect x="485.3" y="659.5" width="6.4" height="6.5" fill="#25252b" rx="2.5" />
<path d="M516 669.6 L543 663" fill="none" stroke="#5554b8" stroke-width="3.6" />
<rect x="560.0" y="622.5" width="11.0" height="5.5" fill="url(#bp)" />
<rect x="560.0" y="627.0" width="11.0" height="6.2" fill="#25252b" rx="1" />
<rect x="562.5" y="633.0" width="6.0" height="26.5" fill="#25252b" />
<rect x="561.0" y="643.4" width="9.0" height="4.6" fill="#2f2f35" rx="1" />
<rect x="561.9" y="658.6" width="7.2" height="13.8" fill="#25252b" rx="1.5" />
<rect x="562.9" y="660.6" width="5.2" height="9.8" fill="#a02828" />
<line x1="562.9" y1="663.8" x2="568.1" y2="663.8" stroke="#401010" stroke-width="0.8" />
<line x1="562.9" y1="667.2" x2="568.1" y2="667.2" stroke="#401010" stroke-width="0.8" />
<rect x="562.7" y="672.4" width="5.6" height="7.6" fill="url(#bp)" />
<rect x="561.5" y="679.0" width="8.0" height="6.5" fill="#dcdcdc" stroke="#555" stroke-width="0.6" rx="2" />
<rect x="568.5" y="650.5" width="8.0" height="4.2" fill="url(#bph)" />
<path d="M575.0 652.6 H576.5 Q578.7 652.6 578.7 656 V658.5" fill="none" stroke="#25252b" stroke-width="5" />
<rect x="576.5" y="657.5" width="4.2" height="4.5" fill="url(#bp)" />
<circle cx="578.7" cy="665.5" r="3.6" fill="#25252b"/>
<circle cx="578.7" cy="665.5" r="1.6" fill="#3a3a42"/>
<circle cx="578.7" cy="671.3" r="2.1" fill="#25252b"/>
<rect x="551.3" y="689.3" width="8.2" height="4.1" fill="url(#bph)" />
<circle cx="565.7" cy="691.9" r="7.1" fill="#e9e9ea" stroke="#333" stroke-width="1.2"/>
<circle cx="565.7" cy="691.9" r="5.2" fill="none" stroke="#c8c8c8" stroke-width="0.6"/>
<rect x="557.0" y="697.6" width="17.5" height="2.0" fill="#3a3a3a" rx="1" />
<path d="M552.5 691.3 H550.5 Q548.6 691.3 548.6 695 V697" fill="none" stroke="#25252b" stroke-width="4.8" />
<rect x="546.5" y="694.0" width="4.2" height="5.3" fill="#7c2222" />
<circle cx="548.6" cy="701.2" r="3.0" fill="#25252b"/>
<circle cx="548.6" cy="701.2" r="1.2" fill="#555"/>
<rect x="572.7" y="622.5" width="6.8" height="57.5" fill="url(#bp)" />
<path d="M572.5 672 v7 q0 8 8 8 h4 v-9 h-4.5 v-6 z" fill="#25252b" />
<rect x="353.4" y="627.8" width="2.6" height="7.2" fill="#2a2a2e" rx="1" />
<rect x="422.4" y="627.8" width="2.6" height="7.2" fill="#2a2a2e" rx="1" />
<rect x="509.4" y="627.8" width="2.6" height="7.2" fill="#2a2a2e" rx="1" />
<rect x="359.2" y="624.5" width="2.6" height="10.5" fill="#2a2a2e" rx="1" />
<rect x="428.2" y="624.5" width="2.6" height="10.5" fill="#2a2a2e" rx="1" />
<rect x="515.2" y="624.5" width="2.6" height="10.5" fill="#2a2a2e" rx="1" />
<rect x="476.8" y="699.7" width="109.2" height="4.3" fill="url(#bph)" />
<rect x="474.0" y="688.0" width="6.5" height="17.0" fill="#25252b" rx="1.5" />
<rect x="541.0" y="699.0" width="12.0" height="5.6" fill="#25252b" rx="1" />
<rect x="585.8" y="696.0" width="6.2" height="10.0" fill="#25252b" rx="2" />
<rect x="587.0" y="693.5" width="3.8" height="3.0" fill="#8c2424" />
</g>
<g id="back">
<path d="M324 915.6 Q354 911 383.6 915.6 Z" fill="#d0d0d2" stroke="#55524f" stroke-width="0.6" />
<rect x="300.1" y="915.6" width="106.3" height="122.2" fill="#e3e3e4" stroke="#4e4c4a" stroke-width="1.2" rx="1" />
<rect x="300.1" y="915.6" width="106.3" height="3.9" fill="#77746f" stroke="#3f3d3b" stroke-width="0.5" />
<line x1="300.5" y1="917.5" x2="406.0" y2="917.5" stroke="#d0d0d0" stroke-width="0.6" />
<rect x="300.1" y="915.6" width="3.9" height="114.4" fill="#8a8885" stroke="#4a4846" stroke-width="0.5" />
<rect x="402.5" y="915.6" width="3.9" height="114.4" fill="#8a8885" stroke="#4a4846" stroke-width="0.5" />
<line x1="302.0" y1="919.0" x2="302.0" y2="1030.0" stroke="#d8d8d8" stroke-width="0.7" />
<line x1="404.4" y1="919.0" x2="404.4" y2="1030.0" stroke="#d8d8d8" stroke-width="0.7" />
<rect x="353.7" y="1030.0" width="52.7" height="7.8" fill="#6e6b68" stroke="#3f3d3b" stroke-width="0.7" />
<line x1="353.7" y1="1033.5" x2="406.4" y2="1033.5" stroke="#8a8784" stroke-width="0.6" />
<rect x="328.4" y="959.2" width="7.4" height="14.3" fill="#b5b5b7" stroke="#555" stroke-width="0.7" />
<rect x="330.3" y="962.0" width="3.6" height="10.0" fill="#d5d5d7" />
<rect x="325.1" y="973.5" width="13.7" height="27.7" fill="#a9a9ab" stroke="#4a4a4a" stroke-width="0.8" />
<rect x="327.6" y="974.5" width="8.7" height="10.5" fill="#c9c9cb" />
<rect x="326.0" y="985.0" width="12.0" height="15.0" fill="#8f8f93" />
<rect x="330.5" y="985.0" width="3.0" height="15.0" fill="#b9b9bb" />
<line x1="326.5" y1="988.0" x2="337.5" y2="988.0" stroke="#555" stroke-width="0.5" />
<line x1="326.5" y1="992.0" x2="337.5" y2="992.0" stroke="#555" stroke-width="0.5" />
<line x1="326.5" y1="996.0" x2="337.5" y2="996.0" stroke="#555" stroke-width="0.5" />
<rect x="305.6" y="1001.2" width="66.1" height="19.1" fill="#ececed" stroke="#8a8a8a" stroke-width="0.6" />
<rect x="305.6" y="1005.0" width="66.1" height="3.5" fill="#b5b5b7" />
<rect x="305.6" y="1013.0" width="66.1" height="2.2" fill="#a9a9ab" />
<rect x="305.6" y="1018.0" width="66.1" height="2.3" fill="#bdbdbf" />
<line x1="305.6" y1="1008.5" x2="371.7" y2="1008.5" stroke="#777" stroke-width="0.5" />
<rect x="353.7" y="1021.0" width="22.1" height="9.0" fill="#f0f0f0" stroke="#666" stroke-width="0.6" />
<rect x="356.0" y="1023.0" width="13.0" height="6.5" fill="#cfcfd1" stroke="#666" stroke-width="0.4" />
<rect x="353.0" y="1038.0" width="15.0" height="189.0" fill="#8f8c89" stroke="#55524f" stroke-width="0.6" />
<rect x="358.5" y="1038.0" width="8.1" height="46.5" fill="#807d7a" stroke="#4a4846" stroke-width="0.6" />
<rect x="353.0" y="1145.0" width="30.0" height="82.0" fill="#918e8b" stroke="#55524f" stroke-width="0.6" />
<path d="M353 1145 H383 V1147 L366 1161 V1227 H353 Z" fill="#8a8784" stroke="#55524f" stroke-width="0.5" />
<line x1="353.0" y1="1161.0" x2="366.0" y2="1161.0" stroke="#55524f" stroke-width="0.5" />
<line x1="366.0" y1="1183.0" x2="383.0" y2="1183.0" stroke="#55524f" stroke-width="0.5" />
<rect x="355.0" y="1212.0" width="10.0" height="9.0" fill="#fff" stroke="#55524f" stroke-width="0.4" />
<rect x="367.0" y="1081.0" width="266.0" height="63.0" fill="#908c89" stroke="#56524f" stroke-width="0.8" />
<rect x="633.0" y="1096.4" width="227.0" height="48.0" fill="#908c89" stroke="#56524f" stroke-width="0.8" />
<rect x="367.0" y="1137.6" width="493.0" height="3.0" fill="#6e6a67" />
<rect x="367.0" y="1140.6" width="493.0" height="3.6" fill="#959290" />
<circle cx="380.0" cy="1084.0" r="0.6" fill="#333"/>
<circle cx="380.0" cy="1134.0" r="0.6" fill="#333"/>
<circle cx="420.0" cy="1084.0" r="0.6" fill="#333"/>
<circle cx="420.0" cy="1134.0" r="0.6" fill="#333"/>
<circle cx="470.0" cy="1084.0" r="0.6" fill="#333"/>
<circle cx="470.0" cy="1134.0" r="0.6" fill="#333"/>
<circle cx="530.0" cy="1084.0" r="0.6" fill="#333"/>
<circle cx="530.0" cy="1134.0" r="0.6" fill="#333"/>
<circle cx="545.0" cy="1084.0" r="0.6" fill="#333"/>
<circle cx="545.0" cy="1134.0" r="0.6" fill="#333"/>
<circle cx="615.0" cy="1084.0" r="0.6" fill="#333"/>
<circle cx="615.0" cy="1134.0" r="0.6" fill="#333"/>
<circle cx="640.0" cy="1099.5" r="0.6" fill="#333"/>
<circle cx="640.0" cy="1134.0" r="0.6" fill="#333"/>
<circle cx="700.0" cy="1099.5" r="0.6" fill="#333"/>
<circle cx="700.0" cy="1134.0" r="0.6" fill="#333"/>
<rect x="373.6" y="1086.4" width="36.4" height="35.6" fill="#f4f4f4" stroke="#3a3836" stroke-width="1.2" />
<rect x="400.0" y="1092.4" width="8.0" height="27.6" fill="#dedede" stroke="#888" stroke-width="0.5" rx="3" />
<rect x="412.4" y="1086.4" width="20.6" height="47.6" fill="#8c8783" stroke="#4a4643" stroke-width="0.8" />
<rect x="422.5" y="1093.0" width="3.0" height="20.0" fill="#2a2a2e" rx="1.5" />
<rect x="421.5" y="1111.0" width="5.0" height="7.0" fill="#2a2a2e" rx="1" />
<circle cx="371.0" cy="1090.0" r="0.7" fill="#222"/>
<circle cx="411.2" cy="1090.0" r="0.7" fill="#222"/>
<circle cx="371.0" cy="1104.0" r="0.7" fill="#222"/>
<circle cx="411.2" cy="1104.0" r="0.7" fill="#222"/>
<circle cx="371.0" cy="1118.0" r="0.7" fill="#222"/>
<circle cx="411.2" cy="1118.0" r="0.7" fill="#222"/>
<circle cx="371.0" cy="1130.0" r="0.7" fill="#222"/>
<circle cx="411.2" cy="1130.0" r="0.7" fill="#222"/>
<rect x="374.6" y="1095.4" width="7.4" height="48.6" fill="url(#bp)" />
<rect x="374.2" y="1092.4" width="8.2" height="10.0" fill="#25252b" rx="3.899999999999989" />
<rect x="374.2" y="1098.4" width="8.2" height="4.0" fill="#25252b" />
<rect x="374.2" y="1107.4" width="8.2" height="17.6" fill="#25252b" />
<rect x="373.8" y="1122.0" width="9.0" height="3.0" fill="#25252b" />
<rect x="388.2" y="1095.4" width="7.8" height="102.6" fill="url(#bp)" />
<rect x="387.8" y="1092.4" width="8.6" height="10.0" fill="#25252b" rx="4.100000000000006" />
<rect x="387.8" y="1098.4" width="8.6" height="4.0" fill="#25252b" />
<rect x="387.8" y="1107.4" width="8.6" height="17.6" fill="#25252b" />
<rect x="387.4" y="1122.0" width="9.4" height="3.0" fill="#25252b" />
<path d="M392 1198 Q392 1198 386 1198" fill="none" stroke="#25252b" stroke-width="7" />
<rect x="383.0" y="1194.0" width="8.0" height="8.0" fill="#25252b" rx="2" />
<rect x="383.0" y="1204.0" width="7.5" height="7.0" fill="url(#bph)" />
<rect x="446.0" y="1081.6" width="18.0" height="53.4" fill="#b3afab" stroke="#56524f" stroke-width="0.6" />
<rect x="448.5" y="1087.6" width="13.0" height="39.4" fill="#9c9894" stroke="#4a4643" stroke-width="0.5" />
<circle cx="455.0" cy="1096.1" r="4.6" fill="#d0cecc" stroke="#2f2d2c" stroke-width="0.9"/>
<circle cx="455.0" cy="1096.1" r="2.4" fill="#8b8783" stroke="#333" stroke-width="0.6"/>
<circle cx="455.0" cy="1111.1" r="4.6" fill="#d0cecc" stroke="#2f2d2c" stroke-width="0.9"/>
<circle cx="455.0" cy="1111.1" r="2.4" fill="#8b8783" stroke="#333" stroke-width="0.6"/>
<rect x="454.2" y="1079.6" width="1.6" height="10.0" fill="#222" />
<circle cx="447.8" cy="1089.6" r="0.8" fill="#333"/>
<circle cx="462.2" cy="1089.6" r="0.8" fill="#333"/>
<circle cx="447.8" cy="1103.6" r="0.8" fill="#333"/>
<circle cx="462.2" cy="1103.6" r="0.8" fill="#333"/>
<circle cx="447.8" cy="1117.6" r="0.8" fill="#333"/>
<circle cx="462.2" cy="1117.6" r="0.8" fill="#333"/>
<rect x="556.4" y="1081.6" width="19.2" height="38.4" fill="#b3afab" stroke="#56524f" stroke-width="0.6" />
<rect x="559.5" y="1087.6" width="13.0" height="24.4" fill="#9c9894" stroke="#4a4643" stroke-width="0.5" />
<circle cx="566.0" cy="1096.1" r="4.6" fill="#d0cecc" stroke="#2f2d2c" stroke-width="0.9"/>
<circle cx="566.0" cy="1096.1" r="2.4" fill="#8b8783" stroke="#333" stroke-width="0.6"/>
<circle cx="566.0" cy="1111.1" r="4.6" fill="#d0cecc" stroke="#2f2d2c" stroke-width="0.9"/>
<circle cx="566.0" cy="1111.1" r="2.4" fill="#8b8783" stroke="#333" stroke-width="0.6"/>
<rect x="565.2" y="1079.6" width="1.6" height="10.0" fill="#222" />
<circle cx="558.2" cy="1089.6" r="0.8" fill="#333"/>
<circle cx="573.8" cy="1089.6" r="0.8" fill="#333"/>
<circle cx="558.2" cy="1103.6" r="0.8" fill="#333"/>
<circle cx="573.8" cy="1103.6" r="0.8" fill="#333"/>
<circle cx="558.2" cy="1117.6" r="0.8" fill="#333"/>
<circle cx="573.8" cy="1117.6" r="0.8" fill="#333"/>
<rect x="583.0" y="1081.6" width="18.0" height="38.4" fill="#b3afab" stroke="#56524f" stroke-width="0.6" />
<rect x="585.5" y="1087.6" width="13.0" height="24.4" fill="#9c9894" stroke="#4a4643" stroke-width="0.5" />
<circle cx="592.0" cy="1096.1" r="4.6" fill="#d0cecc" stroke="#2f2d2c" stroke-width="0.9"/>
<circle cx="592.0" cy="1096.1" r="2.4" fill="#8b8783" stroke="#333" stroke-width="0.6"/>
<circle cx="592.0" cy="1111.1" r="4.6" fill="#d0cecc" stroke="#2f2d2c" stroke-width="0.9"/>
<circle cx="592.0" cy="1111.1" r="2.4" fill="#8b8783" stroke="#333" stroke-width="0.6"/>
<rect x="591.2" y="1079.6" width="1.6" height="10.0" fill="#222" />
<circle cx="584.8" cy="1089.6" r="0.8" fill="#333"/>
<circle cx="599.2" cy="1089.6" r="0.8" fill="#333"/>
<circle cx="584.8" cy="1103.6" r="0.8" fill="#333"/>
<circle cx="599.2" cy="1103.6" r="0.8" fill="#333"/>
<circle cx="584.8" cy="1117.6" r="0.8" fill="#333"/>
<circle cx="599.2" cy="1117.6" r="0.8" fill="#333"/>
<path d="M441.6 1097 V1118" fill="none" stroke="#25252b" stroke-width="4.2" stroke-linecap="round"/>
<path d="M441.6 1100 V1108" fill="none" stroke="#4d4cae" stroke-width="3" />
<path d="M468 1097 V1112 Q468 1122 458 1125" fill="none" stroke="#25252b" stroke-width="4.2" stroke-linecap="round"/>
<path d="M468 1100 V1108" fill="none" stroke="#4d4cae" stroke-width="3" />
<path d="M415.8 1156 V1131 Q415.8 1124.3 424 1124.3 H441" fill="none" stroke="#25252b" stroke-width="11.6" stroke-linecap="round"/>
<rect x="410.0" y="1137.0" width="11.6" height="12.0" fill="url(#bp)" />
<rect x="409.4" y="1149.0" width="12.8" height="7.5" fill="#25252b" rx="1" />
<rect x="407.5" y="1124.0" width="3.5" height="26.0" fill="#25252b" rx="1.5" />
<rect x="407.8" y="1136.0" width="3.0" height="10.0" fill="url(#bp)" />
<rect x="452.4" y="1126.0" width="4.8" height="32.0" fill="#25252b" rx="1" />
<rect x="452.8" y="1146.0" width="4.0" height="8.0" fill="url(#bp)" />
<rect x="451.4" y="1130.0" width="6.8" height="10.0" fill="#25252b" rx="1" />
<rect x="477.0" y="1122.0" width="13.0" height="27.0" fill="url(#bp)" />
<rect x="476.6" y="1118.4" width="13.8" height="18.6" fill="#25252b" rx="6.5" />
<rect x="476.6" y="1128.0" width="13.8" height="9.0" fill="#25252b" />
<rect x="476.6" y="1149.0" width="13.8" height="6.8" fill="#25252b" rx="1" />
<rect x="495.6" y="1087.6" width="18.4" height="47.4" fill="#aaa6a2" stroke="#56524f" stroke-width="0.6" />
<rect x="497.0" y="1090.0" width="3.0" height="28.0" fill="#c8c5c2" stroke="#666" stroke-width="0.3" />
<rect x="509.5" y="1090.0" width="3.0" height="28.0" fill="#c8c5c2" stroke="#666" stroke-width="0.3" />
<rect x="501.6" y="1091.0" width="5.4" height="25.0" fill="#ececec" stroke="#555" stroke-width="0.6" />
<rect x="503.2" y="1094.0" width="2.2" height="18.0" fill="#888" />
<rect x="502.0" y="1116.0" width="4.6" height="42.0" fill="#25252b" rx="1" />
<rect x="502.4" y="1121.0" width="3.8" height="9.0" fill="url(#bp)" />
<rect x="502.4" y="1146.0" width="3.8" height="8.0" fill="url(#bp)" />
<rect x="500.5" y="1132.0" width="7.5" height="10.0" fill="#25252b" rx="1" />
<rect x="498.0" y="1141.0" width="5.0" height="3.0" fill="#25252b" />
<path d="M552.7 1098 V1124 Q552.7 1127 556 1127 H572" fill="none" stroke="#25252b" stroke-width="4.4" stroke-linecap="round"/>
<path d="M552.7 1104 V1120" fill="none" stroke="#4d4cae" stroke-width="3.2" />
<path d="M558 1127 H571" fill="none" stroke="#4d4cae" stroke-width="3.2" />
<path d="M578.7 1098 V1120" fill="none" stroke="#25252b" stroke-width="4.4" stroke-linecap="round"/>
<path d="M578.7 1106 V1120" fill="none" stroke="#4d4cae" stroke-width="3.2" />
<rect x="596.4" y="1095.0" width="33.6" height="18.0" fill="#222226" stroke="#111" stroke-width="0.6" rx="4" />
<rect x="600.0" y="1097.0" width="27.0" height="3.0" fill="#4a4a50" rx="1.5" />
<rect x="603.0" y="1113.0" width="4.0" height="5.5" fill="url(#bp)" />
<path d="M576.8 1157 V1132 Q576.8 1126.2 584 1126.2 H602" fill="none" stroke="#25252b" stroke-width="12.4" />
<rect x="570.6" y="1138.0" width="12.4" height="10.0" fill="url(#bp)" />
<rect x="588.0" y="1120.0" width="6.0" height="12.4" fill="url(#bph)" />
<rect x="569.8" y="1148.0" width="14.0" height="9.0" fill="#25252b" rx="1" />
<path d="M624 1126.2 H643 Q650.2 1126.2 650.2 1133 V1157" fill="none" stroke="#25252b" stroke-width="12.4" />
<rect x="632.6" y="1120.0" width="7.0" height="12.4" fill="url(#bph)" />
<rect x="644.4" y="1138.0" width="11.6" height="10.0" fill="url(#bp)" />
<rect x="643.6" y="1148.0" width="13.2" height="9.0" fill="#25252b" rx="1" />
<linearGradient id="slv" x1="0" x2="0" y1="0" y2="1"><stop offset="0" stop-color="#8a8a8a"/><stop offset="0.4" stop-color="#eeeeee"/><stop offset="1" stop-color="#777"/></linearGradient>
<rect x="602.0" y="1118.4" width="22.0" height="15.2" fill="url(#slv)" stroke="#444" stroke-width="0.6" />
<rect x="602.0" y="1118.4" width="2.5" height="15.2" fill="#555" />
<rect x="621.5" y="1118.4" width="2.5" height="15.2" fill="#555" />
<rect x="634.4" y="1105.0" width="16.2" height="31.0" fill="none" stroke="#6b6764" stroke-width="0.7" rx="2" />
<circle cx="656.4" cy="1109.0" r="1.0" fill="#a39f9b" stroke="#555" stroke-width="0.4"/>
<circle cx="656.4" cy="1114.0" r="1.0" fill="#a39f9b" stroke="#555" stroke-width="0.4"/>
<circle cx="656.4" cy="1119.0" r="1.0" fill="#a39f9b" stroke="#555" stroke-width="0.4"/>
<circle cx="656.4" cy="1124.0" r="1.0" fill="#a39f9b" stroke="#555" stroke-width="0.4"/>
<path d="M672 1050 V1060 Q672 1078 645 1082 Q630 1084 624 1088" fill="none" stroke="#a45ba7" stroke-width="10.5" stroke-linecap="round"/>
<path d="M672 1050 V1060 Q672 1078 645 1082 Q630 1084 624 1088" fill="none" stroke="#cd97cf" stroke-width="4.5" stroke-linecap="round"/>
<rect x="366.0" y="1057.0" width="533.0" height="3.2" fill="#2a7357" />
<rect x="366.0" y="1060.2" width="533.0" height="4.0" fill="#8a9398" />
<rect x="366.0" y="1064.2" width="533.0" height="3.0" fill="#236349" />
<rect x="889.9" y="1057.7" width="9.1" height="9.9" fill="#55585c" stroke="#2a2a2a" stroke-width="0.6" rx="2" />
<circle cx="894.6" cy="1062.6" r="2.4" fill="#9a9da0" stroke="#222" stroke-width="0.6"/>
<circle cx="894.6" cy="1062.6" r="0.9" fill="#333"/>
<rect x="861.0" y="1059.5" width="29.0" height="6.0" fill="#9da1a4" stroke="#555" stroke-width="0.4" />
<circle cx="866.0" cy="1062.0" r="0.7" fill="#222"/>
<circle cx="872.0" cy="1062.0" r="0.7" fill="#222"/>
<circle cx="878.0" cy="1062.0" r="0.7" fill="#222"/>
<rect x="848.5" y="1057.7" width="12.7" height="11.7" fill="#9a9da0" stroke="#555" stroke-width="0.5" />
<rect x="367.0" y="1050.0" width="15.0" height="7.0" fill="#f0f0f0" stroke="#7a7a7a" stroke-width="0.7" />
<rect x="483.6" y="1050.0" width="14.0" height="7.0" fill="#f0f0f0" stroke="#7a7a7a" stroke-width="0.7" />
<rect x="532.0" y="1050.0" width="24.0" height="7.0" fill="#f0f0f0" stroke="#7a7a7a" stroke-width="0.7" />
<rect x="497.6" y="1034.0" width="8.8" height="34.0" fill="#a5a29f" stroke="#4e4c4a" stroke-width="0.6" />
<rect x="498.5" y="1029.0" width="7.0" height="7.0" fill="#c9c9c9" stroke="#444" stroke-width="0.6" />
<circle cx="502.0" cy="1032.3" r="2.0" fill="#eee" stroke="#333" stroke-width="0.6"/>
<line x1="500.5" y1="1058.0" x2="500.5" y2="1067.0" stroke="#333" stroke-width="0.8" />
<line x1="503.5" y1="1058.0" x2="503.5" y2="1067.0" stroke="#333" stroke-width="0.8" />
<rect x="489.0" y="1067.0" width="4.0" height="2.5" fill="#555" />
<rect x="540.0" y="1067.0" width="4.0" height="2.5" fill="#555" />
<rect x="530.5" y="1054.0" width="3.0" height="6.0" fill="#555" />
<rect x="398.0" y="1154.6" width="57.0" height="3.8" fill="url(#bph)" />
<rect x="466.0" y="1154.6" width="58.0" height="3.8" fill="url(#bph)" />
<rect x="583.0" y="1154.6" width="63.0" height="3.8" fill="url(#bph)" />
<rect x="399.0" y="1147.0" width="7.0" height="11.0" fill="url(#bp)" />
<rect x="429.0" y="1146.0" width="4.0" height="12.0" fill="url(#bp)" />
<rect x="428.0" y="1144.0" width="6.0" height="5.0" fill="#25252b" />
<rect x="520.0" y="1152.0" width="7.0" height="8.0" fill="#25252b" rx="2" />
<rect x="390.4" y="1159.0" width="51.2" height="54.6" fill="#8b8987" stroke="#3f3d3b" stroke-width="0.9" />
<rect x="389.8" y="1158.4" width="52.4" height="2.6" fill="#3a3836" />
<rect x="392.4" y="1213.6" width="5.5" height="5.4" fill="#d8d8d8" stroke="#666" stroke-width="0.4" />
<rect x="434.1" y="1213.6" width="5.5" height="5.4" fill="#d8d8d8" stroke="#666" stroke-width="0.4" />
<rect x="391.4" y="1219.0" width="7.5" height="2.5" fill="#444" />
<rect x="433.1" y="1219.0" width="7.5" height="2.5" fill="#444" />
<rect x="398.4" y="1160.0" width="3.0" height="6.0" fill="#3a3836" rx="1" />
<rect x="430.6" y="1160.0" width="3.0" height="6.0" fill="#3a3836" rx="1" />
<rect x="398.4" y="1148.0" width="2.6" height="12.0" fill="#2a2a2e" rx="1.3" />
<rect x="403.9" y="1151.0" width="2.3" height="9.0" fill="#3b3a92" rx="1" />
<rect x="458.0" y="1159.0" width="51.4" height="54.6" fill="#8b8987" stroke="#3f3d3b" stroke-width="0.9" />
<rect x="457.4" y="1158.4" width="52.6" height="2.6" fill="#3a3836" />
<rect x="460.0" y="1213.6" width="5.5" height="5.4" fill="#d8d8d8" stroke="#666" stroke-width="0.4" />
<rect x="501.9" y="1213.6" width="5.5" height="5.4" fill="#d8d8d8" stroke="#666" stroke-width="0.4" />
<rect x="459.0" y="1219.0" width="7.5" height="2.5" fill="#444" />
<rect x="500.9" y="1219.0" width="7.5" height="2.5" fill="#444" />
<rect x="466.0" y="1160.0" width="3.0" height="6.0" fill="#3a3836" rx="1" />
<rect x="498.4" y="1160.0" width="3.0" height="6.0" fill="#3a3836" rx="1" />
<rect x="466.0" y="1148.0" width="2.6" height="12.0" fill="#2a2a2e" rx="1.3" />
<rect x="471.5" y="1151.0" width="2.3" height="9.0" fill="#3b3a92" rx="1" />
<rect x="551.0" y="1159.0" width="51.0" height="54.6" fill="#8b8987" stroke="#3f3d3b" stroke-width="0.9" />
<rect x="550.4" y="1158.4" width="52.2" height="2.6" fill="#3a3836" />
<rect x="553.0" y="1213.6" width="5.5" height="5.4" fill="#d8d8d8" stroke="#666" stroke-width="0.4" />
<rect x="594.5" y="1213.6" width="5.5" height="5.4" fill="#d8d8d8" stroke="#666" stroke-width="0.4" />
<rect x="552.0" y="1219.0" width="7.5" height="2.5" fill="#444" />
<rect x="593.5" y="1219.0" width="7.5" height="2.5" fill="#444" />
<rect x="559.0" y="1160.0" width="3.0" height="6.0" fill="#3a3836" rx="1" />
<rect x="591.0" y="1160.0" width="3.0" height="6.0" fill="#3a3836" rx="1" />
<rect x="559.0" y="1148.0" width="2.6" height="12.0" fill="#2a2a2e" rx="1.3" />
<rect x="564.5" y="1151.0" width="2.3" height="9.0" fill="#3b3a92" rx="1" />
<rect x="625.0" y="1159.0" width="50.6" height="54.6" fill="#8b8987" stroke="#3f3d3b" stroke-width="0.9" />
<rect x="624.4" y="1158.4" width="51.8" height="2.6" fill="#3a3836" />
<rect x="627.0" y="1213.6" width="5.5" height="5.4" fill="#d8d8d8" stroke="#666" stroke-width="0.4" />
<rect x="668.1" y="1213.6" width="5.5" height="5.4" fill="#d8d8d8" stroke="#666" stroke-width="0.4" />
<rect x="626.0" y="1219.0" width="7.5" height="2.5" fill="#444" />
<rect x="667.1" y="1219.0" width="7.5" height="2.5" fill="#444" />
<rect x="633.0" y="1160.0" width="3.0" height="6.0" fill="#3a3836" rx="1" />
<rect x="664.6" y="1160.0" width="3.0" height="6.0" fill="#3a3836" rx="1" />
<rect x="633.0" y="1148.0" width="2.6" height="12.0" fill="#2a2a2e" rx="1.3" />
<rect x="638.5" y="1151.0" width="2.3" height="9.0" fill="#3b3a92" rx="1" />
<path d="M441.6 1188 L458 1194" fill="none" stroke="#5554b8" stroke-width="3.6" />
<rect x="412.0" y="1214.5" width="20.0" height="6.5" fill="#25252b" rx="2.5" />
<rect x="417.0" y="1215.5" width="10.0" height="4.5" fill="#3f78a8" />
<rect x="478.0" y="1214.5" width="20.0" height="6.5" fill="#25252b" rx="2.5" />
<rect x="483.0" y="1215.5" width="10.0" height="4.5" fill="#3f78a8" />
<rect x="573.0" y="1214.5" width="20.0" height="6.5" fill="#25252b" rx="2.5" />
<rect x="578.0" y="1215.5" width="10.0" height="4.5" fill="#3f78a8" />
<rect x="642.0" y="1214.0" width="16.0" height="13.0" fill="#e6e6ea" stroke="#666" stroke-width="0.6" rx="3" />
<rect x="657.0" y="1214.5" width="18.0" height="7.0" fill="#25252b" rx="2.5" />
<rect x="660.0" y="1216.0" width="8.0" height="4.5" fill="#4d4cae" />
<rect x="664.0" y="1221.0" width="8.0" height="11.0" fill="#25252b" rx="2" />
<rect x="516.0" y="1161.0" width="11.0" height="60.0" fill="url(#cyl)" stroke="#6d6561" stroke-width="0.6" />
<rect x="526.0" y="1148.0" width="3.4" height="73.6" fill="#9a9794" stroke="#55524f" stroke-width="0.4" />
<rect x="605.6" y="1148.0" width="4.0" height="73.6" fill="#9a9794" stroke="#55524f" stroke-width="0.4" />
<rect x="353.0" y="1221.6" width="282.0" height="5.4" fill="#8b8885" stroke="#55524f" stroke-width="0.5" />
<rect x="388.0" y="1227.0" width="122.0" height="4.6" fill="url(#bph)" />
<rect x="386.0" y="1226.0" width="10.0" height="6.5" fill="#25252b" rx="2.5" />
<rect x="430.0" y="1226.5" width="9.0" height="5.8" fill="#25252b" rx="1" />
<rect x="494.0" y="1226.0" width="17.0" height="6.5" fill="#25252b" rx="2.5" />
<circle cx="384.5" cy="1231.5" r="2.6" fill="#25252b"/>
<path d="M690 920 L705.6 922.4 Q706.6 928.5 705.6 934.6 L690 937 Z" fill="url(#vent)" stroke="#5f5855" stroke-width="0.6" />
<rect x="685.6" y="948.0" width="6.0" height="273.0" fill="url(#pole)" stroke="#5b5754" stroke-width="0.5" />
<rect x="683.0" y="1221.0" width="11.0" height="3.5" fill="#444" rx="1" />
<rect x="660.0" y="915.6" width="24.0" height="110.4" fill="url(#twr)" stroke="#5f5855" stroke-width="0.7" />
<line x1="660.0" y1="941.0" x2="684.0" y2="941.0" stroke="#5f5855" stroke-width="0.7" />
<rect x="670.0" y="912.5" width="3.0" height="3.1" fill="#aaa" stroke="#555" stroke-width="0.4" />
<rect x="660.0" y="915.6" width="24.0" height="25.4" fill="rgba(90,80,76,0.12)" />
<path d="M691 919.8 H687 Q680.5 922 680.5 928.5 Q680.5 935 687 937.2 H691 Z" fill="url(#vent)" stroke="#5f5855" stroke-width="0.6" />
<path d="M660 1026 L667 1039.5 H678 L684 1026 Z" fill="url(#twr)" stroke="#5f5855" stroke-width="0.6" />
<rect x="664.0" y="1043.0" width="16.0" height="6.5" fill="#2b2b30" rx="2" />
<rect x="666.0" y="1039.5" width="12.0" height="3.5" fill="#9a9592" stroke="#555" stroke-width="0.4" />
<rect x="680.0" y="1045.0" width="10.0" height="2.2" fill="#222" />
<rect x="683.5" y="963.0" width="2.5" height="4.0" fill="#aaa" stroke="#555" stroke-width="0.4" />
<rect x="683.5" y="1016.0" width="2.5" height="4.0" fill="#aaa" stroke="#555" stroke-width="0.4" />
<rect x="684.0" y="1058.0" width="9.5" height="10.0" fill="#9a9da0" stroke="#555" stroke-width="0.5" />
<rect x="585.6" y="1017.0" width="6.4" height="21.0" fill="none" stroke="#444" stroke-width="1.6" rx="2" />
<rect x="647.0" y="1017.0" width="6.2" height="21.0" fill="none" stroke="#444" stroke-width="1.6" rx="2" />
<rect x="591.0" y="1009.0" width="57.0" height="36.6" fill="#8e9197" stroke="#3a3a3e" stroke-width="1.1" rx="4" />
<rect x="612.4" y="1021.0" width="13.6" height="13.0" fill="#18181c" />
<path d="M621 1028 L617.5 1049" fill="none" stroke="#c9ccd0" stroke-width="3" />
<path d="M621 1028 L617.5 1049" fill="none" stroke="#777" stroke-width="0.6" />
<rect x="611.0" y="1049.0" width="4.0" height="8.0" fill="#a9acb0" stroke="#555" stroke-width="0.5" />
<rect x="611.0" y="1047.0" width="9.0" height="3.0" fill="#a9acb0" stroke="#555" stroke-width="0.4" />
<rect x="722.0" y="959.0" width="81.6" height="59.0" fill="#e8e8e9" rx="2.5" />
<rect x="722.0" y="1023.0" width="81.6" height="73.0" fill="#e8e8e9" rx="2.5" />
<rect x="717.0" y="1057.0" width="91.6" height="3.2" fill="#2a7357" />
<rect x="717.0" y="1060.2" width="91.6" height="4.0" fill="#8a9398" />
<rect x="717.0" y="1064.2" width="91.6" height="3.0" fill="#236349" />
<rect x="722.0" y="1056.0" width="81.6" height="12.0" fill="rgba(232,232,233,0.4)" />
<rect x="760.5" y="1050.5" width="25.5" height="6.5" fill="#e2e2e2" stroke="#8a8a8a" stroke-width="0.6" />
<rect x="734.0" y="962.3" width="6.3" height="55.7" fill="#b3b3b6" stroke="#555" stroke-width="0.4" />
<rect x="734.6" y="963.0" width="5.1" height="4.5" fill="#e0e0e0" stroke="#555" stroke-width="0.3" />
<rect x="740.3" y="980.0" width="3.7" height="37.0" fill="#8a8a8e" stroke="#555" stroke-width="0.3" />
<rect x="749.2" y="980.0" width="3.4" height="36.4" fill="#a9a9ad" stroke="#666" stroke-width="0.3" />
<line x1="740.6" y1="982.0" x2="743.7" y2="982.0" stroke="#444" stroke-width="0.5" />
<line x1="749.5" y1="982.0" x2="752.3" y2="982.0" stroke="#666" stroke-width="0.5" />
<line x1="740.6" y1="985.0" x2="743.7" y2="985.0" stroke="#444" stroke-width="0.5" />
<line x1="749.5" y1="985.0" x2="752.3" y2="985.0" stroke="#666" stroke-width="0.5" />
<line x1="740.6" y1="988.0" x2="743.7" y2="988.0" stroke="#444" stroke-width="0.5" />
<line x1="749.5" y1="988.0" x2="752.3" y2="988.0" stroke="#666" stroke-width="0.5" />
<line x1="740.6" y1="991.0" x2="743.7" y2="991.0" stroke="#444" stroke-width="0.5" />
<line x1="749.5" y1="991.0" x2="752.3" y2="991.0" stroke="#666" stroke-width="0.5" />
<line x1="740.6" y1="994.0" x2="743.7" y2="994.0" stroke="#444" stroke-width="0.5" />
<line x1="749.5" y1="994.0" x2="752.3" y2="994.0" stroke="#666" stroke-width="0.5" />
<line x1="740.6" y1="997.0" x2="743.7" y2="997.0" stroke="#444" stroke-width="0.5" />
<line x1="749.5" y1="997.0" x2="752.3" y2="997.0" stroke="#666" stroke-width="0.5" />
<line x1="740.6" y1="1000.0" x2="743.7" y2="1000.0" stroke="#444" stroke-width="0.5" />
<line x1="749.5" y1="1000.0" x2="752.3" y2="1000.0" stroke="#666" stroke-width="0.5" />
<line x1="740.6" y1="1003.0" x2="743.7" y2="1003.0" stroke="#444" stroke-width="0.5" />
<line x1="749.5" y1="1003.0" x2="752.3" y2="1003.0" stroke="#666" stroke-width="0.5" />
<line x1="740.6" y1="1006.0" x2="743.7" y2="1006.0" stroke="#444" stroke-width="0.5" />
<line x1="749.5" y1="1006.0" x2="752.3" y2="1006.0" stroke="#666" stroke-width="0.5" />
<line x1="740.6" y1="1009.0" x2="743.7" y2="1009.0" stroke="#444" stroke-width="0.5" />
<line x1="749.5" y1="1009.0" x2="752.3" y2="1009.0" stroke="#666" stroke-width="0.5" />
<line x1="740.6" y1="1012.0" x2="743.7" y2="1012.0" stroke="#444" stroke-width="0.5" />
<line x1="749.5" y1="1012.0" x2="752.3" y2="1012.0" stroke="#666" stroke-width="0.5" />
<line x1="740.6" y1="1015.0" x2="743.7" y2="1015.0" stroke="#444" stroke-width="0.5" />
<line x1="749.5" y1="1015.0" x2="752.3" y2="1015.0" stroke="#666" stroke-width="0.5" />
<rect x="722.3" y="1004.7" width="9.5" height="12.7" fill="#c5c5c7" stroke="#555" stroke-width="0.4" />
<rect x="724.0" y="1008.0" width="4.0" height="6.0" fill="#8a8a8e" />
<rect x="723.3" y="1023.2" width="30.2" height="6.3" fill="#d2d2d4" stroke="#666" stroke-width="0.4" />
<rect x="724.0" y="1023.5" width="7.0" height="9.5" fill="#dcdcde" stroke="#777" stroke-width="0.3" />
<rect x="734.0" y="1029.5" width="10.0" height="16.5" fill="#9a9a9e" stroke="#555" stroke-width="0.3" />
<rect x="737.3" y="1046.0" width="3.4" height="7.5" fill="#333" />
<rect x="721.6" y="1082.0" width="81.4" height="14.4" fill="#6d6a67" stroke="#3f3d3b" stroke-width="0.6" />
<rect x="728.0" y="1080.0" width="4.0" height="2.0" fill="#333" />
<rect x="792.0" y="1080.0" width="4.0" height="2.0" fill="#333" />
<rect x="750.0" y="1080.8" width="25.0" height="1.2" fill="#444" />
<rect x="721.6" y="1096.4" width="81.4" height="40.6" fill="#b1aba7" />
<rect x="721.6" y="1137.0" width="81.4" height="7.4" fill="#a39f9b" />
<circle cx="735.0" cy="1104.0" r="0.6" fill="#444"/>
<circle cx="735.0" cy="1133.0" r="0.6" fill="#444"/>
<circle cx="768.0" cy="1104.0" r="0.6" fill="#444"/>
<circle cx="768.0" cy="1133.0" r="0.6" fill="#444"/>
<circle cx="797.0" cy="1104.0" r="0.6" fill="#444"/>
<circle cx="797.0" cy="1133.0" r="0.6" fill="#444"/>
<rect x="839.4" y="1096.4" width="20.6" height="40.6" fill="#a9a52e" stroke="#7c7a25" stroke-width="0.5" />
<rect x="831.0" y="1114.0" width="8.4" height="11.0" fill="#908c89" stroke="#56524f" stroke-width="0.6" />
<rect x="803.0" y="1137.0" width="57.0" height="7.4" fill="#aaa6a2" stroke="#56524f" stroke-width="0.4" />
<rect x="721.6" y="1146.0" width="81.4" height="5.0" fill="#c0bdba" stroke="#555" stroke-width="0.4" />
<rect x="721.6" y="1151.0" width="81.4" height="43.0" fill="#0c0c0e" stroke="#333" stroke-width="0.5" />
<circle cx="727.0" cy="1181.0" r="0.8" fill="#ddd"/>
<circle cx="727.0" cy="1188.0" r="0.8" fill="#ddd"/>
<circle cx="733.4" cy="1181.0" r="0.8" fill="#ddd"/>
<circle cx="733.4" cy="1188.0" r="0.8" fill="#ddd"/>
<circle cx="739.8" cy="1181.0" r="0.8" fill="#ddd"/>
<circle cx="739.8" cy="1188.0" r="0.8" fill="#ddd"/>
<circle cx="746.2" cy="1181.0" r="0.8" fill="#ddd"/>
<circle cx="746.2" cy="1188.0" r="0.8" fill="#ddd"/>
<circle cx="752.6" cy="1181.0" r="0.8" fill="#ddd"/>
<circle cx="752.6" cy="1188.0" r="0.8" fill="#ddd"/>
<circle cx="759.0" cy="1181.0" r="0.8" fill="#ddd"/>
<circle cx="759.0" cy="1188.0" r="0.8" fill="#ddd"/>
<circle cx="765.4" cy="1181.0" r="0.8" fill="#ddd"/>
<circle cx="765.4" cy="1188.0" r="0.8" fill="#ddd"/>
<circle cx="771.8" cy="1181.0" r="0.8" fill="#ddd"/>
<circle cx="771.8" cy="1188.0" r="0.8" fill="#ddd"/>
<circle cx="778.2" cy="1181.0" r="0.8" fill="#ddd"/>
<circle cx="778.2" cy="1188.0" r="0.8" fill="#ddd"/>
<circle cx="784.6" cy="1181.0" r="0.8" fill="#ddd"/>
<circle cx="784.6" cy="1188.0" r="0.8" fill="#ddd"/>
<circle cx="791.0" cy="1181.0" r="0.8" fill="#ddd"/>
<circle cx="791.0" cy="1188.0" r="0.8" fill="#ddd"/>
<circle cx="797.4" cy="1181.0" r="0.8" fill="#ddd"/>
<circle cx="797.4" cy="1188.0" r="0.8" fill="#ddd"/>
<rect x="721.6" y="1194.0" width="81.4" height="4.5" fill="#b9b6b3" stroke="#555" stroke-width="0.4" />
<rect x="716.8" y="954.0" width="91.8" height="5.0" fill="#8a8885" stroke="#4e4c4a" stroke-width="0.6" />
<rect x="716.8" y="1018.0" width="91.8" height="5.0" fill="#8a8885" stroke="#4e4c4a" stroke-width="0.6" />
<rect x="716.8" y="954.0" width="5.0" height="267.0" fill="#8a8885" stroke="#4e4c4a" stroke-width="0.6" />
<rect x="803.6" y="954.0" width="5.0" height="267.0" fill="#8a8885" stroke="#4e4c4a" stroke-width="0.6" />
<rect x="804.5" y="955.0" width="3.5" height="3.5" fill="#333" />
<rect x="715.8" y="1220.5" width="7.0" height="4.0" fill="#444" rx="1" />
<rect x="802.6" y="1220.5" width="7.0" height="4.0" fill="#444" rx="1" />
<rect x="714.5" y="1165.0" width="2.3" height="10.0" fill="#666" />
<rect x="808.6" y="1165.0" width="2.4" height="10.0" fill="#666" />
<rect x="852.3" y="1069.0" width="5.7" height="152.0" fill="url(#pole)" stroke="#5b5754" stroke-width="0.4" />
<rect x="852.3" y="1069.0" width="5.7" height="75.0" fill="#85858f" stroke="#4a4a55" stroke-width="0.4" />
<rect x="849.0" y="1221.0" width="11.6" height="3.5" fill="#444" rx="1" />
<rect x="708.4" y="1073.0" width="8.4" height="5.0" fill="#b03a30" />
<rect x="708.4" y="1078.0" width="8.4" height="5.0" fill="#a9a33a" />
<rect x="708.4" y="1083.0" width="8.4" height="5.0" fill="#2f8a4a" />
<rect x="708.4" y="1088.0" width="8.4" height="8.0" fill="#f0f0f0" stroke="#999" stroke-width="0.4" />
<path d="M154.5 1021.5 H353.4 V1227 H339 V1212 H270 V1227 H237 V1212 H169.5 V1227 H154.5 Z" fill="#75726c" stroke="#403e3c" stroke-width="1" />
<line x1="253.8" y1="1021.5" x2="253.8" y2="1204.5" stroke="#2f2d2c" stroke-width="1.1" />
<line x1="154.5" y1="1204.5" x2="353.4" y2="1204.5" stroke="#403e3c" stroke-width="0.9" />
<rect x="137.4" y="1076.4" width="17.1" height="33.6" fill="#7f7c78" stroke="#45423f" stroke-width="0.9" />
<rect x="153.5" y="1022.0" width="3.0" height="182.0" fill="#5a5754" />
<rect x="243.6" y="1099.0" width="4.6" height="26.0" fill="#1d1d20" stroke="#000" stroke-width="0.3" rx="1.5" />
<rect x="244.2" y="1100.0" width="3.4" height="5.5" fill="#d8d2b0" rx="1" />
<rect x="260.0" y="1099.0" width="4.6" height="26.0" fill="#1d1d20" stroke="#000" stroke-width="0.3" rx="1.5" />
<rect x="260.6" y="1100.0" width="3.4" height="5.5" fill="#d8d2b0" rx="1" />
<circle cx="303.7" cy="1039.0" r="1.7" fill="#9c2b2b" stroke="#511" stroke-width="0.4"/>
<circle cx="160.0" cy="1199.0" r="0.6" fill="#222"/>
<circle cx="348.0" cy="1199.0" r="0.6" fill="#222"/>
<rect x="165.0" y="1002.0" width="3.0" height="19.0" fill="#e8e8e8" stroke="#999" stroke-width="0.4" />
<rect x="162.0" y="1019.0" width="9.0" height="2.5" fill="#ddd" stroke="#888" stroke-width="0.4" />
<rect x="162.0" y="978.6" width="9.0" height="4.9" fill="#b03a30" />
<rect x="162.0" y="983.5" width="9.0" height="4.0" fill="#a9a33a" />
<rect x="162.0" y="987.5" width="9.0" height="4.5" fill="#2f8a4a" />
<rect x="162.0" y="992.0" width="9.0" height="10.0" fill="#f2f2f2" stroke="#999" stroke-width="0.4" />
<rect x="216.0" y="1223.0" width="127.0" height="6.5" fill="url(#bph)" />
<path d="M217.5 1213 V1222 Q217.5 1226.3 222 1226.3 H228" fill="none" stroke="#25252b" stroke-width="7.4" />
<path d="M341.5 1213 V1222 Q341.5 1226.3 337 1226.3 H330" fill="none" stroke="#25252b" stroke-width="7.4" />
<rect x="214.0" y="1213.0" width="7.0" height="7.0" fill="url(#bp)" />
<rect x="193.0" y="1213.0" width="43.0" height="3.0" fill="#9a9794" stroke="#555" stroke-width="0.4" />
<rect x="270.0" y="1213.0" width="68.0" height="3.5" fill="#9a9794" stroke="#555" stroke-width="0.4" />
<rect x="192.5" y="1216.0" width="3.0" height="8.0" fill="#666" />
<rect x="190.5" y="1223.5" width="7.0" height="2.5" fill="#333" rx="1" />
<rect x="305.0" y="1214.0" width="11.0" height="9.0" fill="#25252b" rx="2" />
<rect x="323.0" y="1214.0" width="7.0" height="9.0" fill="url(#bp)" />
</g>
<clipPath id="wc1"><rect x="137.4" y="1021.5" width="216.0" height="205.5"/></clipPath>
<g clip-path="url(#wc1)" font-family="Liberation Sans, sans-serif" font-size="13.5" fill="rgba(255,255,255,0.11)" text-anchor="middle">
<text transform="translate(176.0,1060.0) rotate(-45)" y="4.5">常州金骆驼</text>
<text transform="translate(318.0,1060.0) rotate(-45)" y="4.5">常州金骆驼</text>
<text transform="translate(242.5,1137.6) rotate(-45)" y="4.5">常州金骆驼</text>
<text transform="translate(179.0,1205.0) rotate(-45)" y="4.5">常州金骆驼</text>
<text transform="translate(326.0,1201.0) rotate(-45)" y="4.5">常州金骆驼</text>
</g>
<clipPath id="wc2"><rect x="672.0" y="507.5" width="153.0" height="192.5"/></clipPath>
<g clip-path="url(#wc2)" font-family="Liberation Sans, sans-serif" font-size="13.5" fill="rgba(255,255,255,0.10)" text-anchor="middle">
<text transform="translate(738.0,531.0) rotate(-45)" y="4.5">常州金骆驼</text>
<text transform="translate(799.0,596.0) rotate(-45)" y="4.5">常州金骆驼</text>
<text transform="translate(690.0,640.0) rotate(-45)" y="4.5">常州金骆驼</text>
</g>
<clipPath id="wc3"><rect x="198.2" y="563.2" width="85.3" height="107.3"/></clipPath>
<g clip-path="url(#wc3)" font-family="Liberation Sans, sans-serif" font-size="13.5" fill="rgba(255,255,255,0.10)" text-anchor="middle">
<text transform="translate(253.0,615.0) rotate(-45)" y="4.5">常州金骆驼</text>
</g>
<g id="leaders" transform="translate(0,0.5)">
<polyline points="198.0,356.0 251.5,356.0 326.0,403.5" fill="none" stroke="#b9845f" stroke-width="0.9"/>
<polyline points="153.0,376.0 251.0,376.0 321.0,410.5" fill="none" stroke="#b9845f" stroke-width="0.9"/>
<polyline points="216.0,396.0 250.0,396.0 294.0,421.0" fill="none" stroke="#b9845f" stroke-width="0.9"/>
<polyline points="348.0,356.0 450.0,356.0 486.0,514.0" fill="none" stroke="#b9845f" stroke-width="0.9"/>
<polyline points="348.0,376.0 424.0,376.0 468.0,541.0" fill="none" stroke="#b9845f" stroke-width="0.9"/>
<polyline points="348.0,396.0 416.0,396.0 446.0,536.0" fill="none" stroke="#b9845f" stroke-width="0.9"/>
<polyline points="348.0,468.6 404.0,468.6 395.0,495.0" fill="none" stroke="#b9845f" stroke-width="0.9"/>
<polyline points="93.0,483.0 238.0,483.0" fill="none" stroke="#b9845f" stroke-width="0.9"/>
<polyline points="93.0,506.6 156.0,506.6 183.0,589.5" fill="none" stroke="#b9845f" stroke-width="0.9"/>
<polyline points="188.0,735.0 252.0,735.0 383.0,600.0" fill="none" stroke="#b9845f" stroke-width="0.9"/>
<polyline points="197.0,754.0 252.0,754.0 347.0,693.0" fill="none" stroke="#b9845f" stroke-width="0.9"/>
<polyline points="561.5,733.5 495.5,733.5 467.0,591.0" fill="none" stroke="#b9845f" stroke-width="0.9"/>
<polyline points="544.0,753.6 495.5,753.6 437.0,590.0" fill="none" stroke="#b9845f" stroke-width="0.9"/>
<polyline points="544.0,772.5 495.5,772.5 396.0,590.0" fill="none" stroke="#b9845f" stroke-width="0.9"/>
<polyline points="681.0,733.5 638.0,733.5 590.0,586.0" fill="none" stroke="#b9845f" stroke-width="0.9"/>
<polyline points="716.0,753.6 638.0,753.6 556.5,594.0" fill="none" stroke="#b9845f" stroke-width="0.9"/>
<polyline points="681.0,772.5 638.0,772.5 537.0,592.7" fill="none" stroke="#b9845f" stroke-width="0.9"/>
<polyline points="914.5,381.0 817.0,381.0 652.4,465.0" fill="none" stroke="#b9845f" stroke-width="0.9"/>
<polyline points="879.0,399.8 817.0,399.8 712.6,518.8" fill="none" stroke="#b9845f" stroke-width="0.9"/>
<polyline points="887.0,431.0 821.5,431.0 711.0,587.5" fill="none" stroke="#b9845f" stroke-width="0.9"/>
<polyline points="897.0,450.0 818.0,450.0 760.0,590.0" fill="none" stroke="#b9845f" stroke-width="0.9"/>
<polyline points="876.4,629.6 826.0,629.6 812.0,631.0 712.6,649.0" fill="none" stroke="#b9845f" stroke-width="0.9"/>
<polyline points="62.5,1029.0 112.5,1029.0 137.5,1090.0" fill="none" stroke="#b9845f" stroke-width="0.9"/>
<polyline points="648.0,940.6 562.0,940.6 455.5,1131.0" fill="none" stroke="#b9845f" stroke-width="0.9"/>
<polyline points="632.0,960.6 562.0,960.6 505.0,1131.0" fill="none" stroke="#b9845f" stroke-width="0.9"/>
<polyline points="632.0,980.0 562.0,980.0 565.6,1092.0" fill="none" stroke="#b9845f" stroke-width="0.9"/>
<polyline points="301.5,1264.0 370.0,1264.0 397.0,1128.0" fill="none" stroke="#b9845f" stroke-width="0.9"/>
<polyline points="293.5,1284.0 369.0,1284.0 385.0,1232.0" fill="none" stroke="#b9845f" stroke-width="0.9"/>
<polyline points="672.0,1261.8 592.8,1261.8 562.0,1165.0" fill="none" stroke="#b9845f" stroke-width="0.9"/>
<polyline points="672.0,1282.6 592.8,1282.6 560.5,1163.0" fill="none" stroke="#b9845f" stroke-width="0.9"/>
<polyline points="672.0,1301.8 592.8,1301.8 557.5,1163.0" fill="none" stroke="#b9845f" stroke-width="0.9"/>
<polyline points="822.0,1262.4 741.6,1262.4 612.0,1124.0" fill="none" stroke="#b9845f" stroke-width="0.9"/>
<polyline points="803.0,1283.0 741.6,1283.0 652.0,1193.0" fill="none" stroke="#b9845f" stroke-width="0.9"/>
<polyline points="822.0,1302.0 741.6,1302.0 668.0,1230.0" fill="none" stroke="#b9845f" stroke-width="0.9"/>
</g>
<line x1="478.2" y1="358.0" x2="521.4" y2="358.0" stroke="#666" stroke-width="1.1" />
<line x1="481.5" y1="873.0" x2="527.5" y2="873.0" stroke="#666" stroke-width="1.1" />
<text transform="translate(74.8,536.4) rotate(90)" font-family="Liberation Sans, sans-serif" font-size="9.4" fill="#e59a78">T</text>
<text transform="translate(85.9,575.3) rotate(90)" font-family="Liberation Sans, sans-serif" font-size="9.4" fill="#e59a78">S</text>
<text transform="translate(110.0,614.3) rotate(90)" font-family="Liberation Sans, sans-serif" font-size="9.4" fill="#e59a78">R</text>
<text transform="translate(931.2,536.6) rotate(90)" font-family="Liberation Sans, sans-serif" font-size="9.4" fill="#e59a78">Q</text>
</svg>
<div class="lb r" style="right:757.2px;top:345.2px;font-size:9.1px">冷水进出口</div>
<div class="lb r" style="right:757.2px;top:365.2px;font-size:9.1px">清洗药水冷凝回收系统</div>
<div class="lb r" style="right:757.2px;top:385.2px;font-size:9.1px">排风口</div>
<div class="lb" style="left:348.0px;top:345.2px;font-size:9.1px">干冰式镜片盒清洗机喷嘴</div>
<div class="lb" style="left:348.0px;top:365.2px;font-size:9.1px">镜片装载盒输送带</div>
<div class="lb" style="left:348.0px;top:385.2px;font-size:9.1px">镜片装载盒</div>
<div class="lb" style="left:348.0px;top:447.2px;font-size:9.1px">控制屏幕（有限</div>
<div class="lb" style="left:348.0px;top:456.8px;font-size:9.1px">空间内可移动）</div>
<div class="lb" style="left:93.0px;top:471.6px;font-size:9.1px">镜片自动装载机械手</div>
<div class="lb" style="left:93.0px;top:495.2px;font-size:9.1px">镜片装载区域</div>
<div class="lb r" style="right:757.7px;top:723.2px;font-size:9.1px">药水清洗区域</div>
<div class="lb r" style="right:757.7px;top:742.7px;font-size:9.1px">药水供水泵</div>
<div class="lb" style="left:507.5px;top:722.7px;font-size:9.1px">雾化溶解区域</div>
<div class="lb" style="left:507.5px;top:742.2px;font-size:9.1px">药水喷嘴</div>
<div class="lb" style="left:507.5px;top:761.2px;font-size:9.1px">清洗毛刷</div>
<div class="lb" style="left:645.5px;top:722.7px;font-size:9.1px">烘干区域</div>
<div class="lb" style="left:645.5px;top:742.2px;font-size:9.1px">去离子水冲洗区域</div>
<div class="lb" style="left:645.5px;top:761.2px;font-size:9.1px">漂洗区域</div>
<div class="lb" style="left:834.0px;top:369.2px;font-size:9.1px">镜片自动卸载机械手</div>
<div class="lb" style="left:834.0px;top:388.2px;font-size:9.1px">集中控制柜</div>
<div class="lb" style="left:834.0px;top:419.2px;font-size:9.1px">镜片卸载区域</div>
<div class="lb" style="left:834.0px;top:438.2px;font-size:9.1px">镜片烘干风机组</div>
<div class="lb" style="left:834.0px;top:617.8px;font-size:9.1px">热风过滤器</div>
<div class="lb" style="left:62.5px;top:1016.2px;font-size:9.4px;letter-spacing:0.58px">电源/入口</div>
<div class="lb" style="left:576.0px;top:918.2px;font-size:9.4px;letter-spacing:0.75px">流量/温度/电导率</div>
<div class="lb" style="left:576.0px;top:928.4px;font-size:9.4px;letter-spacing:0.33px">传感器</div>
<div class="lb" style="left:576.0px;top:948.8px;font-size:9.4px;letter-spacing:0.33px">电导率传感器</div>
<div class="lb" style="left:576.0px;top:968.8px;font-size:9.4px;letter-spacing:0.33px">毛刷驱动电机</div>
<div class="lb r" style="right:641.0px;top:1251.2px;font-size:9.4px;letter-spacing:0.50px">烘干热风管道</div>
<div class="lb r" style="right:639.5px;top:1271.7px;font-size:9.4px;letter-spacing:0.50px">去离子水排水口</div>
<div class="lb" style="left:605.0px;top:1251.2px;font-size:9.4px;letter-spacing:0.57px">备用清洗药水箱</div>
<div class="lb" style="left:605.0px;top:1272.0px;font-size:9.4px;letter-spacing:0.57px">药水液位传感器</div>
<div class="lb" style="left:605.0px;top:1290.6px;font-size:9.4px;letter-spacing:0.57px">药水温度传感器</div>
<div class="lb" style="left:755.0px;top:1251.2px;font-size:9.4px;letter-spacing:0.57px">清洗药水换向阀</div>
<div class="lb" style="left:755.0px;top:1272.0px;font-size:9.4px;letter-spacing:0.57px">清洗药水箱</div>
<div class="lb" style="left:755.0px;top:1290.6px;font-size:9.4px;letter-spacing:0.57px">清洗药水排水口</div>
<div class="ttl" style="left:483px;top:342.5px;font-size:11.2px;letter-spacing:0.2px">前视图</div>
<div class="ttl" style="left:487.5px;top:856px;font-size:12.2px;letter-spacing:0.2px">后视图</div>
<div id="pg">07</div>
</body></html>
